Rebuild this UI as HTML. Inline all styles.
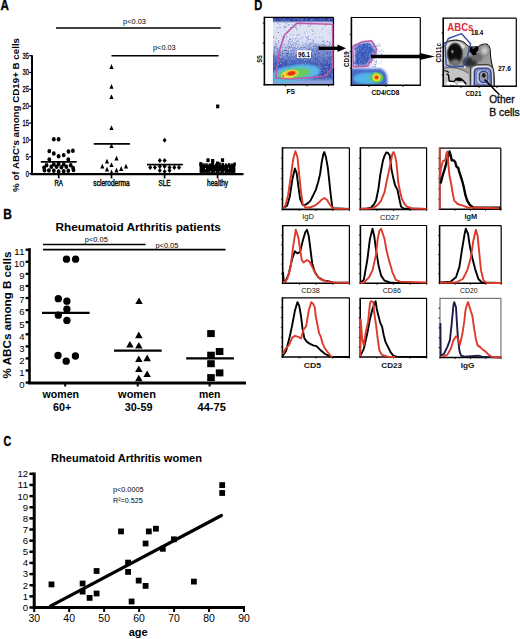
<!DOCTYPE html>
<html><head><meta charset="utf-8"><style>
html,body{margin:0;padding:0;background:#fff;}
svg{display:block;font-family:"Liberation Sans",sans-serif;}
</style></head><body>
<svg width="520" height="639" viewBox="0 0 520 639">
<defs>
<filter id="b1" x="-50%" y="-50%" width="200%" height="200%"><feGaussianBlur stdDeviation="1"/></filter>
<filter id="b2" x="-50%" y="-50%" width="200%" height="200%"><feGaussianBlur stdDeviation="1.8"/></filter>
<filter id="b3" x="-50%" y="-50%" width="200%" height="200%"><feGaussianBlur stdDeviation="2.6"/></filter>
<filter id="b05" x="-50%" y="-50%" width="200%" height="200%"><feGaussianBlur stdDeviation="0.6"/></filter>
<radialGradient id="gabc"><stop offset="0" stop-color="#000"/><stop offset="0.6" stop-color="#111"/><stop offset="1" stop-color="#555"/></radialGradient>
<radialGradient id="grb"><stop offset="0" stop-color="#d8d8d8"/><stop offset="0.6" stop-color="#aaa"/><stop offset="1" stop-color="#808080"/></radialGradient>
<linearGradient id="gfs" x1="0" y1="0" x2="0" y2="1">
 <stop offset="0" stop-color="#2a3c9c"/><stop offset="0.045" stop-color="#3a4ca8"/><stop offset="0.08" stop-color="#dfe4f4"/>
 <stop offset="0.33" stop-color="#dde2f4"/><stop offset="0.48" stop-color="#b4c0e6"/><stop offset="0.6" stop-color="#7088cc"/><stop offset="0.7" stop-color="#3d58b6"/><stop offset="1" stop-color="#3550b0"/>
</linearGradient>
<clipPath id="cfs"><rect x="272.8" y="17.6" width="60.2" height="66.4"/></clipPath>
<clipPath id="ccd19"><rect x="352.2" y="18.2" width="67.5" height="66.6"/></clipPath>
<clipPath id="ccd11"><rect x="443.9" y="18.8" width="72" height="66.6"/></clipPath>
</defs>
<text x="0.6" y="10.2" font-size="14.3" font-weight="bold" text-anchor="start" fill="#000" textLength="8.4" lengthAdjust="spacingAndGlyphs" stroke="#000" stroke-width="0.35">A</text>
<line x1="32" y1="55.3" x2="32" y2="174.6" stroke="#000" stroke-width="2" stroke-linecap="butt"/>
<line x1="30.5" y1="174.1" x2="243.5" y2="174.1" stroke="#000" stroke-width="2.4" stroke-linecap="butt"/>
<line x1="29.2" y1="173.6" x2="32" y2="173.6" stroke="#000" stroke-width="1.3" stroke-linecap="butt"/>
<text x="29" y="176.5" font-size="8.3" font-weight="normal" text-anchor="end" fill="#000" textLength="3.2" lengthAdjust="spacingAndGlyphs" stroke="#000" stroke-width="0.3">0</text>
<line x1="29.2" y1="156.75" x2="32" y2="156.75" stroke="#000" stroke-width="1.3" stroke-linecap="butt"/>
<text x="29" y="159.65" font-size="8.3" font-weight="normal" text-anchor="end" fill="#000" textLength="3.2" lengthAdjust="spacingAndGlyphs" stroke="#000" stroke-width="0.3">5</text>
<line x1="29.2" y1="139.89999999999998" x2="32" y2="139.89999999999998" stroke="#000" stroke-width="1.3" stroke-linecap="butt"/>
<text x="29" y="142.79999999999998" font-size="8.3" font-weight="normal" text-anchor="end" fill="#000" textLength="6.4" lengthAdjust="spacingAndGlyphs" stroke="#000" stroke-width="0.3">10</text>
<line x1="29.2" y1="123.04999999999998" x2="32" y2="123.04999999999998" stroke="#000" stroke-width="1.3" stroke-linecap="butt"/>
<text x="29" y="125.94999999999999" font-size="8.3" font-weight="normal" text-anchor="end" fill="#000" textLength="6.4" lengthAdjust="spacingAndGlyphs" stroke="#000" stroke-width="0.3">15</text>
<line x1="29.2" y1="106.19999999999999" x2="32" y2="106.19999999999999" stroke="#000" stroke-width="1.3" stroke-linecap="butt"/>
<text x="29" y="109.1" font-size="8.3" font-weight="normal" text-anchor="end" fill="#000" textLength="6.4" lengthAdjust="spacingAndGlyphs" stroke="#000" stroke-width="0.3">20</text>
<line x1="29.2" y1="89.35" x2="32" y2="89.35" stroke="#000" stroke-width="1.3" stroke-linecap="butt"/>
<text x="29" y="92.25" font-size="8.3" font-weight="normal" text-anchor="end" fill="#000" textLength="6.4" lengthAdjust="spacingAndGlyphs" stroke="#000" stroke-width="0.3">25</text>
<line x1="29.2" y1="72.49999999999999" x2="32" y2="72.49999999999999" stroke="#000" stroke-width="1.3" stroke-linecap="butt"/>
<text x="29" y="75.39999999999999" font-size="8.3" font-weight="normal" text-anchor="end" fill="#000" textLength="6.4" lengthAdjust="spacingAndGlyphs" stroke="#000" stroke-width="0.3">30</text>
<line x1="29.2" y1="55.64999999999999" x2="32" y2="55.64999999999999" stroke="#000" stroke-width="1.3" stroke-linecap="butt"/>
<text x="29" y="58.54999999999999" font-size="8.3" font-weight="normal" text-anchor="end" fill="#000" textLength="6.4" lengthAdjust="spacingAndGlyphs" stroke="#000" stroke-width="0.3">35</text>
<line x1="58.7" y1="173" x2="58.7" y2="178.4" stroke="#000" stroke-width="1.7" stroke-linecap="butt"/>
<text x="58.7" y="185.8" font-size="8.6" font-weight="normal" text-anchor="middle" fill="#000" textLength="8.5" lengthAdjust="spacingAndGlyphs" stroke="#000" stroke-width="0.4">RA</text>
<line x1="111.5" y1="173" x2="111.5" y2="178.4" stroke="#000" stroke-width="1.7" stroke-linecap="butt"/>
<text x="111.5" y="185.8" font-size="8.3" font-weight="normal" text-anchor="middle" fill="#000" textLength="36.3" lengthAdjust="spacingAndGlyphs" stroke="#000" stroke-width="0.4">scleroderma</text>
<line x1="164.6" y1="173" x2="164.6" y2="178.4" stroke="#000" stroke-width="1.7" stroke-linecap="butt"/>
<text x="164.6" y="185.8" font-size="9" font-weight="normal" text-anchor="middle" fill="#000" textLength="12" lengthAdjust="spacingAndGlyphs" stroke="#000" stroke-width="0.4">SLE</text>
<line x1="217.6" y1="173" x2="217.6" y2="178.4" stroke="#000" stroke-width="1.7" stroke-linecap="butt"/>
<text x="217.6" y="185.8" font-size="8.6" font-weight="normal" text-anchor="middle" fill="#000" textLength="21" lengthAdjust="spacingAndGlyphs" stroke="#000" stroke-width="0.4">healthy</text>
<text transform="translate(18.8,115) rotate(-90)" font-size="9.3" font-weight="bold" text-anchor="middle" fill="#000" textLength="154" lengthAdjust="spacingAndGlyphs">% of ABC's among CD19+ B cells</text>
<line x1="56" y1="28.1" x2="220.7" y2="28.1" stroke="#000" stroke-width="1.5" stroke-linecap="butt"/>
<text x="123" y="23.8" font-size="7.9" font-weight="normal" text-anchor="start" fill="#000" textLength="23" lengthAdjust="spacingAndGlyphs">p&lt;0.03</text>
<line x1="111.5" y1="55.7" x2="218.5" y2="55.7" stroke="#000" stroke-width="1.5" stroke-linecap="butt"/>
<text x="153" y="50.2" font-size="7.9" font-weight="normal" text-anchor="start" fill="#000" textLength="22.7" lengthAdjust="spacingAndGlyphs">p&lt;0.03</text>
<ellipse cx="53.8" cy="139.2" rx="1.9" ry="2.2" fill="#000"/>
<ellipse cx="58.6" cy="139.2" rx="1.9" ry="2.2" fill="#000"/>
<ellipse cx="49.3" cy="151.1" rx="1.9" ry="2.2" fill="#000"/>
<ellipse cx="53.8" cy="153.5" rx="1.9" ry="2.2" fill="#000"/>
<ellipse cx="58.6" cy="156.3" rx="1.9" ry="2.2" fill="#000"/>
<ellipse cx="63.7" cy="155.1" rx="1.9" ry="2.2" fill="#000"/>
<ellipse cx="68.5" cy="151.5" rx="1.9" ry="2.2" fill="#000"/>
<ellipse cx="72.9" cy="150.7" rx="1.9" ry="2.2" fill="#000"/>
<ellipse cx="49.3" cy="159.5" rx="1.9" ry="2.2" fill="#000"/>
<ellipse cx="68.3" cy="159.5" rx="1.9" ry="2.2" fill="#000"/>
<ellipse cx="46.5" cy="165.2" rx="1.9" ry="2.2" fill="#000"/>
<ellipse cx="53.8" cy="164.4" rx="1.9" ry="2.2" fill="#000"/>
<ellipse cx="58.6" cy="164.0" rx="1.9" ry="2.2" fill="#000"/>
<ellipse cx="63.7" cy="164.4" rx="1.9" ry="2.2" fill="#000"/>
<ellipse cx="70.7" cy="165.2" rx="1.9" ry="2.2" fill="#000"/>
<ellipse cx="44.0" cy="167.6" rx="1.9" ry="2.2" fill="#000"/>
<ellipse cx="51.3" cy="166.8" rx="1.9" ry="2.2" fill="#000"/>
<ellipse cx="56.6" cy="166.8" rx="1.9" ry="2.2" fill="#000"/>
<ellipse cx="61.4" cy="167.2" rx="1.9" ry="2.2" fill="#000"/>
<ellipse cx="66.3" cy="166.8" rx="1.9" ry="2.2" fill="#000"/>
<ellipse cx="73.1" cy="168.0" rx="1.9" ry="2.2" fill="#000"/>
<ellipse cx="44.5" cy="170.2" rx="1.9" ry="2.2" fill="#000"/>
<ellipse cx="48.9" cy="170.4" rx="1.9" ry="2.2" fill="#000"/>
<ellipse cx="53.8" cy="170.8" rx="1.9" ry="2.2" fill="#000"/>
<ellipse cx="58.6" cy="171.5" rx="1.9" ry="2.2" fill="#000"/>
<ellipse cx="63.7" cy="171.3" rx="1.9" ry="2.2" fill="#000"/>
<ellipse cx="68.3" cy="170.8" rx="1.9" ry="2.2" fill="#000"/>
<ellipse cx="73.5" cy="170.0" rx="1.9" ry="2.2" fill="#000"/>
<line x1="40.8" y1="161.8" x2="76.6" y2="161.8" stroke="#000" stroke-width="1.8" stroke-linecap="butt"/>
<path d="M109.4 68.9L111.5 64.1L113.6 68.9Z" fill="#000"/>
<path d="M109.4 88.7L111.5 83.9L113.6 88.7Z" fill="#000"/>
<path d="M109.4 99.1L111.5 94.3L113.6 99.1Z" fill="#000"/>
<path d="M109.4 130.1L111.5 125.3L113.6 130.1Z" fill="#000"/>
<path d="M109.4 148.1L111.5 143.3L113.6 148.1Z" fill="#000"/>
<path d="M114.4 160.6L116.5 155.8L118.6 160.6Z" fill="#000"/>
<path d="M104.9 163.6L107.0 158.8L109.1 163.6Z" fill="#000"/>
<path d="M100.2 168.6L102.3 163.8L104.4 168.6Z" fill="#000"/>
<path d="M109.4 167.0L111.5 162.2L113.6 167.0Z" fill="#000"/>
<path d="M123.9 168.6L126.0 163.8L128.1 168.6Z" fill="#000"/>
<path d="M104.9 171.6L107.0 166.8L109.1 171.6Z" fill="#000"/>
<path d="M114.4 172.4L116.5 167.6L118.6 172.4Z" fill="#000"/>
<path d="M119.1 170.9L121.2 166.1L123.3 170.9Z" fill="#000"/>
<path d="M109.4 174.4L111.5 169.6L113.6 174.4Z" fill="#000"/>
<line x1="93.8" y1="143.8" x2="130" y2="143.8" stroke="#000" stroke-width="1.8" stroke-linecap="butt"/>
<path d="M162.6 140.3L164.6 137.8L166.6 140.3L164.6 142.8Z" fill="#000"/>
<path d="M157.8 160.4L159.8 157.9L161.8 160.4L159.8 162.9Z" fill="#000"/>
<path d="M162.6 160.4L164.6 157.9L166.6 160.4L164.6 162.9Z" fill="#000"/>
<path d="M148.2 167.4L150.2 164.9L152.2 167.4L150.2 169.9Z" fill="#000"/>
<path d="M152.9 167.4L154.9 164.9L156.9 167.4L154.9 169.9Z" fill="#000"/>
<path d="M157.8 166.6L159.8 164.1L161.8 166.6L159.8 169.1Z" fill="#000"/>
<path d="M162.6 166.6L164.6 164.1L166.6 166.6L164.6 169.1Z" fill="#000"/>
<path d="M167.5 167.4L169.5 164.9L171.5 167.4L169.5 169.9Z" fill="#000"/>
<path d="M172.3 167.4L174.3 164.9L176.3 167.4L174.3 169.9Z" fill="#000"/>
<path d="M177.0 167.4L179.0 164.9L181.0 167.4L179.0 169.9Z" fill="#000"/>
<path d="M157.8 170.4L159.8 167.9L161.8 170.4L159.8 172.9Z" fill="#000"/>
<path d="M167.5 170.4L169.5 167.9L171.5 170.4L169.5 172.9Z" fill="#000"/>
<path d="M162.6 171.4L164.6 168.9L166.6 171.4L164.6 173.9Z" fill="#000"/>
<line x1="147" y1="164.6" x2="182.8" y2="164.6" stroke="#000" stroke-width="1.8" stroke-linecap="butt"/>
<rect x="216.1" y="104.5" width="3.2" height="3.8" fill="#000"/>
<rect x="206.4" y="158.3" width="3.2" height="3.8" fill="#000"/>
<rect x="211.1" y="159.0" width="3.2" height="3.8" fill="#000"/>
<rect x="220.9" y="158.3" width="3.2" height="3.8" fill="#000"/>
<rect x="199.6" y="165" width="35.8" height="7.9" fill="#000"/>
<rect x="199.5" y="163.1" width="2.6" height="3.2" fill="#000"/>
<rect x="202.2" y="163.3" width="2.6" height="3.2" fill="#000"/>
<rect x="205.2" y="163.4" width="2.6" height="3.2" fill="#000"/>
<rect x="208.5" y="163.5" width="2.6" height="3.2" fill="#000"/>
<rect x="211.7" y="163.3" width="2.6" height="3.2" fill="#000"/>
<rect x="215.0" y="163.5" width="2.6" height="3.2" fill="#000"/>
<rect x="218.2" y="162.4" width="2.6" height="3.2" fill="#000"/>
<rect x="221.4" y="163.0" width="2.6" height="3.2" fill="#000"/>
<rect x="224.7" y="163.5" width="2.6" height="3.2" fill="#000"/>
<rect x="227.9" y="163.2" width="2.6" height="3.2" fill="#000"/>
<rect x="231.0" y="163.5" width="2.6" height="3.2" fill="#000"/>
<rect x="233.3" y="162.5" width="2.6" height="3.2" fill="#000"/>
<rect x="216.0" y="161.5" width="3" height="3.4" fill="#000"/>
<rect x="211.0" y="161.7" width="3" height="3.4" fill="#000"/>
<rect x="199.3" y="162.1" width="3" height="3.4" fill="#000"/>
<rect x="209.79999999999998" y="171.2" width="0.9" height="0.9" fill="#fff"/>
<rect x="214.9" y="171.4" width="0.9" height="0.9" fill="#fff"/>
<rect x="219.6" y="171.2" width="0.9" height="0.9" fill="#fff"/>
<rect x="224.0" y="171.4" width="0.9" height="0.9" fill="#fff"/>
<rect x="205.1" y="168.1" width="0.9" height="0.9" fill="#fff"/>
<rect x="228.1" y="167.79999999999998" width="0.9" height="0.9" fill="#fff"/>
<text x="3.3" y="218.5" font-size="14.3" font-weight="bold" text-anchor="start" fill="#000" textLength="8.6" lengthAdjust="spacingAndGlyphs" stroke="#000" stroke-width="0.35">B</text>
<text x="55.4" y="230.6" font-size="11.2" font-weight="bold" text-anchor="start" fill="#000" textLength="165.5" lengthAdjust="spacingAndGlyphs">Rheumatoid Arthritis patients</text>
<line x1="43" y1="244.5" x2="145.5" y2="244.5" stroke="#000" stroke-width="1.6" stroke-linecap="butt"/>
<line x1="43" y1="249.6" x2="225.5" y2="249.6" stroke="#000" stroke-width="1.6" stroke-linecap="butt"/>
<text x="84.8" y="241.8" font-size="7.9" font-weight="normal" text-anchor="start" fill="#000" textLength="23" lengthAdjust="spacingAndGlyphs">p&lt;0.05</text>
<text x="155.4" y="247.6" font-size="7.9" font-weight="normal" text-anchor="start" fill="#000" textLength="23" lengthAdjust="spacingAndGlyphs">p&lt;0.05</text>
<line x1="29.5" y1="248.2" x2="29.5" y2="384" stroke="#000" stroke-width="2.6" stroke-linecap="butt"/>
<line x1="28.2" y1="383.0" x2="246" y2="383.0" stroke="#000" stroke-width="3.2" stroke-linecap="butt"/>
<line x1="25.6" y1="382.6" x2="29.5" y2="382.6" stroke="#000" stroke-width="2.3" stroke-linecap="butt"/>
<text x="24.6" y="387.90000000000003" font-size="9.9" font-weight="normal" text-anchor="end" fill="#000" textLength="5.3" lengthAdjust="spacingAndGlyphs">0</text>
<line x1="25.6" y1="370.52000000000004" x2="29.5" y2="370.52000000000004" stroke="#000" stroke-width="2.3" stroke-linecap="butt"/>
<text x="24.6" y="375.82000000000005" font-size="9.9" font-weight="normal" text-anchor="end" fill="#000" textLength="5.3" lengthAdjust="spacingAndGlyphs">1</text>
<line x1="25.6" y1="358.44" x2="29.5" y2="358.44" stroke="#000" stroke-width="2.3" stroke-linecap="butt"/>
<text x="24.6" y="363.74" font-size="9.9" font-weight="normal" text-anchor="end" fill="#000" textLength="5.3" lengthAdjust="spacingAndGlyphs">2</text>
<line x1="25.6" y1="346.36" x2="29.5" y2="346.36" stroke="#000" stroke-width="2.3" stroke-linecap="butt"/>
<text x="24.6" y="351.66" font-size="9.9" font-weight="normal" text-anchor="end" fill="#000" textLength="5.3" lengthAdjust="spacingAndGlyphs">3</text>
<line x1="25.6" y1="334.28000000000003" x2="29.5" y2="334.28000000000003" stroke="#000" stroke-width="2.3" stroke-linecap="butt"/>
<text x="24.6" y="339.58000000000004" font-size="9.9" font-weight="normal" text-anchor="end" fill="#000" textLength="5.3" lengthAdjust="spacingAndGlyphs">4</text>
<line x1="25.6" y1="322.20000000000005" x2="29.5" y2="322.20000000000005" stroke="#000" stroke-width="2.3" stroke-linecap="butt"/>
<text x="24.6" y="327.50000000000006" font-size="9.9" font-weight="normal" text-anchor="end" fill="#000" textLength="5.3" lengthAdjust="spacingAndGlyphs">5</text>
<line x1="25.6" y1="310.12" x2="29.5" y2="310.12" stroke="#000" stroke-width="2.3" stroke-linecap="butt"/>
<text x="24.6" y="315.42" font-size="9.9" font-weight="normal" text-anchor="end" fill="#000" textLength="5.3" lengthAdjust="spacingAndGlyphs">6</text>
<line x1="25.6" y1="298.04" x2="29.5" y2="298.04" stroke="#000" stroke-width="2.3" stroke-linecap="butt"/>
<text x="24.6" y="303.34000000000003" font-size="9.9" font-weight="normal" text-anchor="end" fill="#000" textLength="5.3" lengthAdjust="spacingAndGlyphs">7</text>
<line x1="25.6" y1="285.96000000000004" x2="29.5" y2="285.96000000000004" stroke="#000" stroke-width="2.3" stroke-linecap="butt"/>
<text x="24.6" y="291.26000000000005" font-size="9.9" font-weight="normal" text-anchor="end" fill="#000" textLength="5.3" lengthAdjust="spacingAndGlyphs">8</text>
<line x1="25.6" y1="273.88" x2="29.5" y2="273.88" stroke="#000" stroke-width="2.3" stroke-linecap="butt"/>
<text x="24.6" y="279.18" font-size="9.9" font-weight="normal" text-anchor="end" fill="#000" textLength="5.3" lengthAdjust="spacingAndGlyphs">9</text>
<line x1="25.6" y1="261.8" x2="29.5" y2="261.8" stroke="#000" stroke-width="2.3" stroke-linecap="butt"/>
<text x="24.6" y="267.1" font-size="9.9" font-weight="normal" text-anchor="end" fill="#000" textLength="10.6" lengthAdjust="spacingAndGlyphs">10</text>
<line x1="25.6" y1="249.72000000000003" x2="29.5" y2="249.72000000000003" stroke="#000" stroke-width="2.3" stroke-linecap="butt"/>
<text x="24.6" y="255.02000000000004" font-size="9.9" font-weight="normal" text-anchor="end" fill="#000" textLength="10.6" lengthAdjust="spacingAndGlyphs">11</text>
<text transform="translate(11.4,315) rotate(-90)" font-size="11.4" font-weight="bold" text-anchor="middle" fill="#000" textLength="127" lengthAdjust="spacingAndGlyphs">% ABCs among B cells</text>
<line x1="65.2" y1="382" x2="65.2" y2="386.5" stroke="#000" stroke-width="2" stroke-linecap="butt"/>
<line x1="137.7" y1="382" x2="137.7" y2="386.5" stroke="#000" stroke-width="2" stroke-linecap="butt"/>
<line x1="209.6" y1="382" x2="209.6" y2="386.5" stroke="#000" stroke-width="2" stroke-linecap="butt"/>
<text x="60.8" y="398.2" font-size="10.8" font-weight="bold" text-anchor="middle" fill="#000" textLength="36.5" lengthAdjust="spacingAndGlyphs">women</text>
<text x="137" y="398.2" font-size="10.8" font-weight="bold" text-anchor="middle" fill="#000" textLength="37.8" lengthAdjust="spacingAndGlyphs">women</text>
<text x="209.7" y="398.2" font-size="10.8" font-weight="bold" text-anchor="middle" fill="#000" textLength="21.5" lengthAdjust="spacingAndGlyphs">men</text>
<text x="62.2" y="410.6" font-size="10.8" font-weight="bold" text-anchor="middle" fill="#000" textLength="18.3" lengthAdjust="spacingAndGlyphs">60+</text>
<text x="138.6" y="410.6" font-size="10.8" font-weight="bold" text-anchor="middle" fill="#000" textLength="27.7" lengthAdjust="spacingAndGlyphs">30-59</text>
<text x="211.7" y="410.6" font-size="10.8" font-weight="bold" text-anchor="middle" fill="#000" textLength="28.3" lengthAdjust="spacingAndGlyphs">44-75</text>
<circle cx="66.5" cy="259.2" r="3.65" fill="#000"/>
<circle cx="75.6" cy="259.2" r="3.65" fill="#000"/>
<circle cx="58.3" cy="298.7" r="3.65" fill="#000"/>
<circle cx="66.9" cy="301.2" r="3.65" fill="#000"/>
<circle cx="66.9" cy="309.2" r="3.65" fill="#000"/>
<circle cx="58.3" cy="315.2" r="3.65" fill="#000"/>
<circle cx="66.9" cy="320.4" r="3.65" fill="#000"/>
<circle cx="58.0" cy="355.5" r="3.65" fill="#000"/>
<circle cx="75.4" cy="356.0" r="3.65" fill="#000"/>
<circle cx="66.2" cy="361.2" r="3.65" fill="#000"/>
<line x1="42" y1="312.8" x2="89.6" y2="312.8" stroke="#000" stroke-width="2.2" stroke-linecap="butt"/>
<path d="M135.3 304.1L139.1 297.5L142.8 304.1Z" fill="#000"/>
<path d="M135.1 338.2L138.8 331.6L142.6 338.2Z" fill="#000"/>
<path d="M126.2 347.5L129.9 340.9L133.7 347.5Z" fill="#000"/>
<path d="M135.1 348.5L138.8 341.9L142.6 348.5Z" fill="#000"/>
<path d="M135.1 362.1L138.8 355.5L142.6 362.1Z" fill="#000"/>
<path d="M143.4 361.2L147.2 354.6L150.9 361.2Z" fill="#000"/>
<path d="M135.1 372.0L138.8 365.4L142.6 372.0Z" fill="#000"/>
<path d="M143.4 377.1L147.2 370.5L150.9 377.1Z" fill="#000"/>
<path d="M135.1 381.3L138.8 374.7L142.6 381.3Z" fill="#000"/>
<line x1="114" y1="350.6" x2="161.7" y2="350.6" stroke="#000" stroke-width="2.2" stroke-linecap="butt"/>
<rect x="207.2" y="330.1" width="7.6" height="7.0" fill="#000"/>
<rect x="215.8" y="348.0" width="7.6" height="7.0" fill="#000"/>
<rect x="207.2" y="351.7" width="7.6" height="7.0" fill="#000"/>
<rect x="207.2" y="360.2" width="7.6" height="7.0" fill="#000"/>
<rect x="215.8" y="369.4" width="7.6" height="7.0" fill="#000"/>
<rect x="207.2" y="374.1" width="7.6" height="7.0" fill="#000"/>
<line x1="186.2" y1="358.4" x2="233.9" y2="358.4" stroke="#000" stroke-width="2.2" stroke-linecap="butt"/>
<text x="3.6" y="445.6" font-size="14.3" font-weight="bold" text-anchor="start" fill="#000" textLength="7.7" lengthAdjust="spacingAndGlyphs" stroke="#000" stroke-width="0.35">C</text>
<text x="51" y="462.3" font-size="10.9" font-weight="bold" text-anchor="start" fill="#000" textLength="151" lengthAdjust="spacingAndGlyphs">Rheumatoid Arthritis women</text>
<line x1="34.2" y1="472.5" x2="34.2" y2="609" stroke="#000" stroke-width="3" stroke-linecap="butt"/>
<line x1="32.7" y1="607.5" x2="245" y2="607.5" stroke="#000" stroke-width="3" stroke-linecap="butt"/>
<line x1="29.4" y1="607.5" x2="34.2" y2="607.5" stroke="#000" stroke-width="2.5" stroke-linecap="butt"/>
<text x="28.2" y="610.9" font-size="9.6" font-weight="normal" text-anchor="end" fill="#000" textLength="5.35" lengthAdjust="spacingAndGlyphs">0</text>
<line x1="29.4" y1="596.36" x2="34.2" y2="596.36" stroke="#000" stroke-width="2.5" stroke-linecap="butt"/>
<text x="28.2" y="599.76" font-size="9.6" font-weight="normal" text-anchor="end" fill="#000" textLength="5.35" lengthAdjust="spacingAndGlyphs">1</text>
<line x1="29.4" y1="585.22" x2="34.2" y2="585.22" stroke="#000" stroke-width="2.5" stroke-linecap="butt"/>
<text x="28.2" y="588.62" font-size="9.6" font-weight="normal" text-anchor="end" fill="#000" textLength="5.35" lengthAdjust="spacingAndGlyphs">2</text>
<line x1="29.4" y1="574.08" x2="34.2" y2="574.08" stroke="#000" stroke-width="2.5" stroke-linecap="butt"/>
<text x="28.2" y="577.48" font-size="9.6" font-weight="normal" text-anchor="end" fill="#000" textLength="5.35" lengthAdjust="spacingAndGlyphs">3</text>
<line x1="29.4" y1="562.94" x2="34.2" y2="562.94" stroke="#000" stroke-width="2.5" stroke-linecap="butt"/>
<text x="28.2" y="566.34" font-size="9.6" font-weight="normal" text-anchor="end" fill="#000" textLength="5.35" lengthAdjust="spacingAndGlyphs">4</text>
<line x1="29.4" y1="551.8" x2="34.2" y2="551.8" stroke="#000" stroke-width="2.5" stroke-linecap="butt"/>
<text x="28.2" y="555.1999999999999" font-size="9.6" font-weight="normal" text-anchor="end" fill="#000" textLength="5.35" lengthAdjust="spacingAndGlyphs">5</text>
<line x1="29.4" y1="540.66" x2="34.2" y2="540.66" stroke="#000" stroke-width="2.5" stroke-linecap="butt"/>
<text x="28.2" y="544.06" font-size="9.6" font-weight="normal" text-anchor="end" fill="#000" textLength="5.35" lengthAdjust="spacingAndGlyphs">6</text>
<line x1="29.4" y1="529.52" x2="34.2" y2="529.52" stroke="#000" stroke-width="2.5" stroke-linecap="butt"/>
<text x="28.2" y="532.92" font-size="9.6" font-weight="normal" text-anchor="end" fill="#000" textLength="5.35" lengthAdjust="spacingAndGlyphs">7</text>
<line x1="29.4" y1="518.38" x2="34.2" y2="518.38" stroke="#000" stroke-width="2.5" stroke-linecap="butt"/>
<text x="28.2" y="521.78" font-size="9.6" font-weight="normal" text-anchor="end" fill="#000" textLength="5.35" lengthAdjust="spacingAndGlyphs">8</text>
<line x1="29.4" y1="507.24" x2="34.2" y2="507.24" stroke="#000" stroke-width="2.5" stroke-linecap="butt"/>
<text x="28.2" y="510.64" font-size="9.6" font-weight="normal" text-anchor="end" fill="#000" textLength="5.35" lengthAdjust="spacingAndGlyphs">9</text>
<line x1="29.4" y1="496.1" x2="34.2" y2="496.1" stroke="#000" stroke-width="2.5" stroke-linecap="butt"/>
<text x="28.2" y="499.5" font-size="9.6" font-weight="normal" text-anchor="end" fill="#000" textLength="10.7" lengthAdjust="spacingAndGlyphs">10</text>
<line x1="29.4" y1="484.96" x2="34.2" y2="484.96" stroke="#000" stroke-width="2.5" stroke-linecap="butt"/>
<text x="28.2" y="488.35999999999996" font-size="9.6" font-weight="normal" text-anchor="end" fill="#000" textLength="10.7" lengthAdjust="spacingAndGlyphs">11</text>
<line x1="29.4" y1="473.82" x2="34.2" y2="473.82" stroke="#000" stroke-width="2.5" stroke-linecap="butt"/>
<text x="28.2" y="477.21999999999997" font-size="9.6" font-weight="normal" text-anchor="end" fill="#000" textLength="10.7" lengthAdjust="spacingAndGlyphs">12</text>
<line x1="34.2" y1="606" x2="34.2" y2="612" stroke="#000" stroke-width="2" stroke-linecap="butt"/>
<text x="34.2" y="622.3" font-size="10" font-weight="normal" text-anchor="middle" fill="#000" textLength="11.6" lengthAdjust="spacingAndGlyphs">30</text>
<line x1="69.17" y1="606" x2="69.17" y2="612" stroke="#000" stroke-width="2" stroke-linecap="butt"/>
<text x="69.17" y="622.3" font-size="10" font-weight="normal" text-anchor="middle" fill="#000" textLength="11.6" lengthAdjust="spacingAndGlyphs">40</text>
<line x1="104.14" y1="606" x2="104.14" y2="612" stroke="#000" stroke-width="2" stroke-linecap="butt"/>
<text x="104.14" y="622.3" font-size="10" font-weight="normal" text-anchor="middle" fill="#000" textLength="11.6" lengthAdjust="spacingAndGlyphs">50</text>
<line x1="139.11" y1="606" x2="139.11" y2="612" stroke="#000" stroke-width="2" stroke-linecap="butt"/>
<text x="139.11" y="622.3" font-size="10" font-weight="normal" text-anchor="middle" fill="#000" textLength="11.6" lengthAdjust="spacingAndGlyphs">60</text>
<line x1="174.07999999999998" y1="606" x2="174.07999999999998" y2="612" stroke="#000" stroke-width="2" stroke-linecap="butt"/>
<text x="174.07999999999998" y="622.3" font-size="10" font-weight="normal" text-anchor="middle" fill="#000" textLength="11.6" lengthAdjust="spacingAndGlyphs">70</text>
<line x1="209.05" y1="606" x2="209.05" y2="612" stroke="#000" stroke-width="2" stroke-linecap="butt"/>
<text x="209.05" y="622.3" font-size="10" font-weight="normal" text-anchor="middle" fill="#000" textLength="11.6" lengthAdjust="spacingAndGlyphs">80</text>
<line x1="244.01999999999998" y1="606" x2="244.01999999999998" y2="612" stroke="#000" stroke-width="2" stroke-linecap="butt"/>
<text x="244.01999999999998" y="622.3" font-size="10" font-weight="normal" text-anchor="middle" fill="#000" textLength="11.6" lengthAdjust="spacingAndGlyphs">90</text>
<text x="138.2" y="635.6" font-size="11" font-weight="bold" text-anchor="middle" fill="#000" textLength="19" lengthAdjust="spacingAndGlyphs">age</text>
<text x="113" y="491.6" font-size="7.7" font-weight="normal" text-anchor="start" fill="#000" textLength="30.5" lengthAdjust="spacingAndGlyphs">p&lt;0.0005</text>
<text x="113" y="503.1" font-size="7.7" font-weight="normal" text-anchor="start" fill="#000" textLength="29.7" lengthAdjust="spacingAndGlyphs">R²=0.525</text>
<line x1="50.4" y1="606.2" x2="221.4" y2="515.5" stroke="#000" stroke-width="3.2" stroke-linecap="round"/>
<rect x="48.6" y="581.5" width="5.8" height="5.8" fill="#000"/>
<rect x="79.7" y="580.6" width="5.8" height="5.8" fill="#000"/>
<rect x="79.7" y="588.7" width="5.8" height="5.8" fill="#000"/>
<rect x="86.7" y="595.0" width="5.8" height="5.8" fill="#000"/>
<rect x="93.7" y="568.1" width="5.8" height="5.8" fill="#000"/>
<rect x="93.7" y="590.6" width="5.8" height="5.8" fill="#000"/>
<rect x="118.1" y="528.5" width="5.8" height="5.8" fill="#000"/>
<rect x="145.9" y="528.5" width="5.8" height="5.8" fill="#000"/>
<rect x="153.0" y="525.8" width="5.8" height="5.8" fill="#000"/>
<rect x="142.7" y="540.6" width="5.8" height="5.8" fill="#000"/>
<rect x="171.0" y="536.4" width="5.8" height="5.8" fill="#000"/>
<rect x="159.9" y="545.9" width="5.8" height="5.8" fill="#000"/>
<rect x="125.2" y="559.7" width="5.8" height="5.8" fill="#000"/>
<rect x="125.2" y="569.0" width="5.8" height="5.8" fill="#000"/>
<rect x="135.8" y="577.7" width="5.8" height="5.8" fill="#000"/>
<rect x="142.7" y="583.0" width="5.8" height="5.8" fill="#000"/>
<rect x="128.7" y="598.6" width="5.8" height="5.8" fill="#000"/>
<rect x="219.3" y="482.2" width="5.8" height="5.8" fill="#000"/>
<rect x="219.3" y="490.1" width="5.8" height="5.8" fill="#000"/>
<rect x="191.0" y="578.7" width="5.8" height="5.8" fill="#000"/>
<text x="254.2" y="10.2" font-size="14.3" font-weight="bold" text-anchor="start" fill="#000" textLength="8.0" lengthAdjust="spacingAndGlyphs" stroke="#000" stroke-width="0.35">D</text>
<line x1="282.5" y1="147.8" x2="349.4" y2="147.8" stroke="#000" stroke-width="1.2" stroke-linecap="butt"/>
<line x1="349.4" y1="147.8" x2="349.4" y2="209.4" stroke="#000" stroke-width="1.2" stroke-linecap="butt"/>
<line x1="282.5" y1="147.20000000000002" x2="282.5" y2="210.20000000000002" stroke="#000" stroke-width="1.6" stroke-linecap="butt"/>
<line x1="281.7" y1="209.4" x2="350.0" y2="209.4" stroke="#000" stroke-width="1.6" stroke-linecap="butt"/>
<line x1="280.9" y1="199.13333333333333" x2="282.5" y2="199.13333333333333" stroke="#000" stroke-width="0.8" stroke-linecap="butt"/>
<line x1="280.9" y1="188.86666666666667" x2="282.5" y2="188.86666666666667" stroke="#000" stroke-width="0.8" stroke-linecap="butt"/>
<line x1="280.9" y1="178.60000000000002" x2="282.5" y2="178.60000000000002" stroke="#000" stroke-width="0.8" stroke-linecap="butt"/>
<line x1="280.9" y1="168.33333333333334" x2="282.5" y2="168.33333333333334" stroke="#000" stroke-width="0.8" stroke-linecap="butt"/>
<line x1="280.9" y1="158.06666666666666" x2="282.5" y2="158.06666666666666" stroke="#000" stroke-width="0.8" stroke-linecap="butt"/>
<line x1="299.225" y1="209.4" x2="299.225" y2="211.0" stroke="#000" stroke-width="0.8" stroke-linecap="butt"/>
<line x1="315.95" y1="209.4" x2="315.95" y2="211.0" stroke="#000" stroke-width="0.8" stroke-linecap="butt"/>
<line x1="332.67499999999995" y1="209.4" x2="332.67499999999995" y2="211.0" stroke="#000" stroke-width="0.8" stroke-linecap="butt"/>
<line x1="349.4" y1="209.4" x2="349.4" y2="211.0" stroke="#000" stroke-width="0.8" stroke-linecap="butt"/>
<polyline points="282.8,208.3 287.1,205.7 289.7,197.1 292.3,179.8 294.9,168.5 296.6,172.9 298.4,186.7 300.1,198.8 302.7,204.9 305.3,204.9 307.9,203.1 310.5,200.6 313.1,195.4 315.7,190.2 318.3,181.5 320.0,174.6 321.7,162.5 323.4,153.8 324.3,152.1 326.0,157.3 327.8,167.7 328.6,174.6 330.4,191.9 332.1,205.7 333.0,208.3 349.4,208.9" fill="none" stroke="#000" stroke-width="1.9" stroke-linejoin="round"/>
<polyline points="282.8,208.3 285.4,205.7 288.0,195.4 290.6,178.1 293.2,159.0 295.4,151.2 297.5,157.3 299.2,174.6 301.0,191.9 302.7,204.0 305.3,207.5 309.6,207.5 314.8,205.7 319.1,202.3 321.7,199.7 324.3,198.0 326.9,199.7 329.5,204.0 332.1,207.5 335.6,208.9 349.4,208.9" fill="none" stroke="#dd3a2e" stroke-width="1.9" stroke-linejoin="round"/>
<text x="308.1" y="219" font-size="7" font-weight="normal" text-anchor="middle" fill="#111" textLength="11.8" lengthAdjust="spacingAndGlyphs">IgD</text>
<line x1="360.4" y1="147.8" x2="426.6" y2="147.8" stroke="#000" stroke-width="1.2" stroke-linecap="butt"/>
<line x1="426.6" y1="147.8" x2="426.6" y2="209.4" stroke="#000" stroke-width="1.2" stroke-linecap="butt"/>
<line x1="360.4" y1="147.20000000000002" x2="360.4" y2="210.20000000000002" stroke="#000" stroke-width="1.6" stroke-linecap="butt"/>
<line x1="359.59999999999997" y1="209.4" x2="427.20000000000005" y2="209.4" stroke="#000" stroke-width="1.6" stroke-linecap="butt"/>
<line x1="358.79999999999995" y1="199.13333333333333" x2="360.4" y2="199.13333333333333" stroke="#000" stroke-width="0.8" stroke-linecap="butt"/>
<line x1="358.79999999999995" y1="188.86666666666667" x2="360.4" y2="188.86666666666667" stroke="#000" stroke-width="0.8" stroke-linecap="butt"/>
<line x1="358.79999999999995" y1="178.60000000000002" x2="360.4" y2="178.60000000000002" stroke="#000" stroke-width="0.8" stroke-linecap="butt"/>
<line x1="358.79999999999995" y1="168.33333333333334" x2="360.4" y2="168.33333333333334" stroke="#000" stroke-width="0.8" stroke-linecap="butt"/>
<line x1="358.79999999999995" y1="158.06666666666666" x2="360.4" y2="158.06666666666666" stroke="#000" stroke-width="0.8" stroke-linecap="butt"/>
<line x1="376.95" y1="209.4" x2="376.95" y2="211.0" stroke="#000" stroke-width="0.8" stroke-linecap="butt"/>
<line x1="393.5" y1="209.4" x2="393.5" y2="211.0" stroke="#000" stroke-width="0.8" stroke-linecap="butt"/>
<line x1="410.05" y1="209.4" x2="410.05" y2="211.0" stroke="#000" stroke-width="0.8" stroke-linecap="butt"/>
<line x1="426.6" y1="209.4" x2="426.6" y2="211.0" stroke="#000" stroke-width="0.8" stroke-linecap="butt"/>
<polyline points="360.4,208.9 367.3,208.5 370.8,207.8 374.2,204.0 376.0,200.6 378.5,188.4 380.3,174.6 382.9,160.8 384.6,155.6 386.3,152.5 388.1,153.0 389.8,155.6 391.5,169.4 393.3,178.1 395.0,185.0 397.6,190.2 399.3,198.8 401.0,206.6 403.6,208.5 426.1,208.9" fill="none" stroke="#000" stroke-width="1.9" stroke-linejoin="round"/>
<polyline points="360.4,208.9 369.0,208.5 372.5,208.2 377.7,204.9 381.1,200.6 384.6,191.9 386.3,183.3 388.9,171.1 390.7,162.5 392.4,153.8 393.6,152.1 395.0,155.6 396.4,162.5 398.4,183.3 400.2,191.9 401.9,198.8 404.5,204.0 407.1,206.6 412.3,208.5 426.6,208.9" fill="none" stroke="#dd3a2e" stroke-width="1.9" stroke-linejoin="round"/>
<text x="389.6" y="220.3" font-size="7" font-weight="normal" text-anchor="middle" fill="#111" textLength="19.2" lengthAdjust="spacingAndGlyphs">CD27</text>
<line x1="439.7" y1="148.2" x2="500.8" y2="148.2" stroke="#000" stroke-width="1.2" stroke-linecap="butt"/>
<line x1="500.8" y1="148.2" x2="500.8" y2="209.2" stroke="#000" stroke-width="1.2" stroke-linecap="butt"/>
<line x1="439.7" y1="147.6" x2="439.7" y2="210.0" stroke="#000" stroke-width="1.6" stroke-linecap="butt"/>
<line x1="438.9" y1="209.2" x2="501.40000000000003" y2="209.2" stroke="#000" stroke-width="1.6" stroke-linecap="butt"/>
<line x1="438.09999999999997" y1="199.03333333333333" x2="439.7" y2="199.03333333333333" stroke="#000" stroke-width="0.8" stroke-linecap="butt"/>
<line x1="438.09999999999997" y1="188.86666666666665" x2="439.7" y2="188.86666666666665" stroke="#000" stroke-width="0.8" stroke-linecap="butt"/>
<line x1="438.09999999999997" y1="178.7" x2="439.7" y2="178.7" stroke="#000" stroke-width="0.8" stroke-linecap="butt"/>
<line x1="438.09999999999997" y1="168.53333333333333" x2="439.7" y2="168.53333333333333" stroke="#000" stroke-width="0.8" stroke-linecap="butt"/>
<line x1="438.09999999999997" y1="158.36666666666665" x2="439.7" y2="158.36666666666665" stroke="#000" stroke-width="0.8" stroke-linecap="butt"/>
<line x1="454.975" y1="209.2" x2="454.975" y2="210.79999999999998" stroke="#000" stroke-width="0.8" stroke-linecap="butt"/>
<line x1="470.25" y1="209.2" x2="470.25" y2="210.79999999999998" stroke="#000" stroke-width="0.8" stroke-linecap="butt"/>
<line x1="485.525" y1="209.2" x2="485.525" y2="210.79999999999998" stroke="#000" stroke-width="0.8" stroke-linecap="butt"/>
<line x1="500.8" y1="209.2" x2="500.8" y2="210.79999999999998" stroke="#000" stroke-width="0.8" stroke-linecap="butt"/>
<line x1="439.7" y1="209.2" x2="439.7" y2="147.7" stroke="#dd3a2e" stroke-width="1.8" stroke-linecap="butt"/>
<polyline points="440.6,183.5 442.5,176.0 444.5,169.6 446.0,164.2 448.7,154.2 449.5,151.5 450.6,155.0 451.8,160.4 453.7,160.4 455.2,162.0 456.4,166.5 458.3,168.0 459.0,171.2 460.6,175.8 462.5,182.0 463.7,186.7 465.5,195.4 467.2,200.6 469.8,204.9 473.3,207.5 481.9,207.8 500.6,207.8" fill="none" stroke="#000" stroke-width="2.4" stroke-linejoin="round"/>
<polyline points="440.3,175.0 441.0,168.0 443.0,161.0 445.2,160.4 446.5,153.0 447.3,151.5 448.3,164.2 449.5,175.8 451.4,185.0 452.5,192.0 454.2,200.6 457.7,204.0 462.9,205.7 468.0,207.5 499.2,208.3" fill="none" stroke="#dd3a2e" stroke-width="1.9" stroke-linejoin="round"/>
<text x="470.8" y="219" font-size="7" font-weight="bold" text-anchor="middle" fill="#111" textLength="12.7" lengthAdjust="spacingAndGlyphs">IgM</text>
<line x1="282.7" y1="225.6" x2="349.4" y2="225.6" stroke="#000" stroke-width="1.2" stroke-linecap="butt"/>
<line x1="349.4" y1="225.6" x2="349.4" y2="283.3" stroke="#000" stroke-width="1.2" stroke-linecap="butt"/>
<line x1="282.7" y1="225.0" x2="282.7" y2="284.1" stroke="#000" stroke-width="1.6" stroke-linecap="butt"/>
<line x1="281.9" y1="283.3" x2="350.0" y2="283.3" stroke="#000" stroke-width="1.6" stroke-linecap="butt"/>
<line x1="281.09999999999997" y1="273.68333333333334" x2="282.7" y2="273.68333333333334" stroke="#000" stroke-width="0.8" stroke-linecap="butt"/>
<line x1="281.09999999999997" y1="264.06666666666666" x2="282.7" y2="264.06666666666666" stroke="#000" stroke-width="0.8" stroke-linecap="butt"/>
<line x1="281.09999999999997" y1="254.45" x2="282.7" y2="254.45" stroke="#000" stroke-width="0.8" stroke-linecap="butt"/>
<line x1="281.09999999999997" y1="244.83333333333334" x2="282.7" y2="244.83333333333334" stroke="#000" stroke-width="0.8" stroke-linecap="butt"/>
<line x1="281.09999999999997" y1="235.21666666666667" x2="282.7" y2="235.21666666666667" stroke="#000" stroke-width="0.8" stroke-linecap="butt"/>
<line x1="299.375" y1="283.3" x2="299.375" y2="284.90000000000003" stroke="#000" stroke-width="0.8" stroke-linecap="butt"/>
<line x1="316.04999999999995" y1="283.3" x2="316.04999999999995" y2="284.90000000000003" stroke="#000" stroke-width="0.8" stroke-linecap="butt"/>
<line x1="332.72499999999997" y1="283.3" x2="332.72499999999997" y2="284.90000000000003" stroke="#000" stroke-width="0.8" stroke-linecap="butt"/>
<line x1="349.4" y1="283.3" x2="349.4" y2="284.90000000000003" stroke="#000" stroke-width="0.8" stroke-linecap="butt"/>
<polyline points="283.0,272.1 283.7,280.7 285.4,281.6 288.8,273.8 292.3,258.3 294.9,251.3 297.5,253.4 300.1,251.7 302.7,241.0 305.3,232.3 307.0,229.7 308.7,235.8 310.5,249.6 312.2,263.4 314.8,272.1 318.3,277.3 323.4,280.4 330.4,281.6 333.8,282.8 349.4,282.8" fill="none" stroke="#000" stroke-width="1.9" stroke-linejoin="round"/>
<polyline points="283.3,282.8 287.1,279.4 290.6,266.9 293.2,246.1 295.8,229.7 298.4,237.5 300.1,249.6 301.8,260.0 303.5,262.6 307.0,260.0 309.6,261.7 312.2,266.9 315.7,273.8 320.0,279.0 326.9,281.6 333.8,282.5 349.4,282.8" fill="none" stroke="#dd3a2e" stroke-width="1.9" stroke-linejoin="round"/>
<text x="310.6" y="292.8" font-size="7" font-weight="normal" text-anchor="middle" fill="#111" textLength="18.5" lengthAdjust="spacingAndGlyphs">CD38</text>
<line x1="360.4" y1="225.5" x2="426.6" y2="225.5" stroke="#000" stroke-width="1.2" stroke-linecap="butt"/>
<line x1="426.6" y1="225.5" x2="426.6" y2="283.3" stroke="#000" stroke-width="1.2" stroke-linecap="butt"/>
<line x1="360.4" y1="224.9" x2="360.4" y2="284.1" stroke="#000" stroke-width="1.6" stroke-linecap="butt"/>
<line x1="359.59999999999997" y1="283.3" x2="427.20000000000005" y2="283.3" stroke="#000" stroke-width="1.6" stroke-linecap="butt"/>
<line x1="358.79999999999995" y1="273.6666666666667" x2="360.4" y2="273.6666666666667" stroke="#000" stroke-width="0.8" stroke-linecap="butt"/>
<line x1="358.79999999999995" y1="264.03333333333336" x2="360.4" y2="264.03333333333336" stroke="#000" stroke-width="0.8" stroke-linecap="butt"/>
<line x1="358.79999999999995" y1="254.4" x2="360.4" y2="254.4" stroke="#000" stroke-width="0.8" stroke-linecap="butt"/>
<line x1="358.79999999999995" y1="244.76666666666668" x2="360.4" y2="244.76666666666668" stroke="#000" stroke-width="0.8" stroke-linecap="butt"/>
<line x1="358.79999999999995" y1="235.13333333333333" x2="360.4" y2="235.13333333333333" stroke="#000" stroke-width="0.8" stroke-linecap="butt"/>
<line x1="376.95" y1="283.3" x2="376.95" y2="284.90000000000003" stroke="#000" stroke-width="0.8" stroke-linecap="butt"/>
<line x1="393.5" y1="283.3" x2="393.5" y2="284.90000000000003" stroke="#000" stroke-width="0.8" stroke-linecap="butt"/>
<line x1="410.05" y1="283.3" x2="410.05" y2="284.90000000000003" stroke="#000" stroke-width="0.8" stroke-linecap="butt"/>
<line x1="426.6" y1="283.3" x2="426.6" y2="284.90000000000003" stroke="#000" stroke-width="0.8" stroke-linecap="butt"/>
<polyline points="360.4,282.8 363.8,279.9 367.3,260.0 369.9,239.2 372.5,228.8 374.2,235.8 376.0,249.6 378.5,265.2 381.1,275.6 384.6,280.7 389.8,282.5 396.7,283.0 426.6,283.0" fill="none" stroke="#000" stroke-width="1.9" stroke-linejoin="round"/>
<polyline points="360.4,283.0 363.8,282.5 369.0,277.3 372.5,270.4 376.0,254.8 377.7,239.2 379.4,230.6 381.1,228.8 382.9,234.0 384.6,239.2 386.3,249.6 388.9,260.0 392.4,272.1 395.8,279.9 400.2,281.6 426.6,282.5" fill="none" stroke="#dd3a2e" stroke-width="1.9" stroke-linejoin="round"/>
<text x="391.8" y="292.8" font-size="7" font-weight="normal" text-anchor="middle" fill="#111" textLength="18.3" lengthAdjust="spacingAndGlyphs">CD86</text>
<line x1="439.6" y1="225.7" x2="501.2" y2="225.7" stroke="#000" stroke-width="1.2" stroke-linecap="butt"/>
<line x1="501.2" y1="225.7" x2="501.2" y2="283.3" stroke="#000" stroke-width="1.2" stroke-linecap="butt"/>
<line x1="439.6" y1="225.1" x2="439.6" y2="284.1" stroke="#000" stroke-width="1.6" stroke-linecap="butt"/>
<line x1="438.8" y1="283.3" x2="501.8" y2="283.3" stroke="#000" stroke-width="1.6" stroke-linecap="butt"/>
<line x1="438.0" y1="273.7" x2="439.6" y2="273.7" stroke="#000" stroke-width="0.8" stroke-linecap="butt"/>
<line x1="438.0" y1="264.1" x2="439.6" y2="264.1" stroke="#000" stroke-width="0.8" stroke-linecap="butt"/>
<line x1="438.0" y1="254.5" x2="439.6" y2="254.5" stroke="#000" stroke-width="0.8" stroke-linecap="butt"/>
<line x1="438.0" y1="244.9" x2="439.6" y2="244.9" stroke="#000" stroke-width="0.8" stroke-linecap="butt"/>
<line x1="438.0" y1="235.29999999999998" x2="439.6" y2="235.29999999999998" stroke="#000" stroke-width="0.8" stroke-linecap="butt"/>
<line x1="455.0" y1="283.3" x2="455.0" y2="284.90000000000003" stroke="#000" stroke-width="0.8" stroke-linecap="butt"/>
<line x1="470.4" y1="283.3" x2="470.4" y2="284.90000000000003" stroke="#000" stroke-width="0.8" stroke-linecap="butt"/>
<line x1="485.8" y1="283.3" x2="485.8" y2="284.90000000000003" stroke="#000" stroke-width="0.8" stroke-linecap="butt"/>
<line x1="501.2" y1="283.3" x2="501.2" y2="284.90000000000003" stroke="#000" stroke-width="0.8" stroke-linecap="butt"/>
<polyline points="440.0,282.5 450.8,281.6 456.0,277.3 459.4,266.9 462.0,249.6 464.6,234.0 465.8,228.8 468.1,234.0 469.8,246.1 472.4,258.3 475.0,268.6 478.4,279.0 481.9,282.5 501.3,283.0" fill="none" stroke="#000" stroke-width="1.9" stroke-linejoin="round"/>
<polyline points="440.0,282.8 456.0,282.5 462.9,279.0 467.2,270.4 470.7,258.3 473.3,241.0 475.8,229.7 477.6,235.8 479.3,253.1 481.0,270.4 483.6,280.7 487.1,283.0 501.3,283.0" fill="none" stroke="#dd3a2e" stroke-width="1.9" stroke-linejoin="round"/>
<text x="468.9" y="292.8" font-size="7" font-weight="normal" text-anchor="middle" fill="#111" textLength="17.6" lengthAdjust="spacingAndGlyphs">CD20</text>
<line x1="282.4" y1="297.8" x2="349.4" y2="297.8" stroke="#000" stroke-width="1.2" stroke-linecap="butt"/>
<line x1="349.4" y1="297.8" x2="349.4" y2="357" stroke="#000" stroke-width="1.2" stroke-linecap="butt"/>
<line x1="282.4" y1="297.2" x2="282.4" y2="357.8" stroke="#000" stroke-width="1.6" stroke-linecap="butt"/>
<line x1="281.59999999999997" y1="357" x2="350.0" y2="357" stroke="#000" stroke-width="1.6" stroke-linecap="butt"/>
<line x1="280.79999999999995" y1="347.1333333333333" x2="282.4" y2="347.1333333333333" stroke="#000" stroke-width="0.8" stroke-linecap="butt"/>
<line x1="280.79999999999995" y1="337.26666666666665" x2="282.4" y2="337.26666666666665" stroke="#000" stroke-width="0.8" stroke-linecap="butt"/>
<line x1="280.79999999999995" y1="327.4" x2="282.4" y2="327.4" stroke="#000" stroke-width="0.8" stroke-linecap="butt"/>
<line x1="280.79999999999995" y1="317.53333333333336" x2="282.4" y2="317.53333333333336" stroke="#000" stroke-width="0.8" stroke-linecap="butt"/>
<line x1="280.79999999999995" y1="307.6666666666667" x2="282.4" y2="307.6666666666667" stroke="#000" stroke-width="0.8" stroke-linecap="butt"/>
<line x1="299.15" y1="357" x2="299.15" y2="358.6" stroke="#000" stroke-width="0.8" stroke-linecap="butt"/>
<line x1="315.9" y1="357" x2="315.9" y2="358.6" stroke="#000" stroke-width="0.8" stroke-linecap="butt"/>
<line x1="332.65" y1="357" x2="332.65" y2="358.6" stroke="#000" stroke-width="0.8" stroke-linecap="butt"/>
<line x1="349.4" y1="357" x2="349.4" y2="358.6" stroke="#000" stroke-width="0.8" stroke-linecap="butt"/>
<polyline points="282.8,355.7 286.2,350.6 289.7,336.7 292.3,324.6 294.9,310.8 297.5,302.1 299.2,305.6 301.0,316.0 302.7,329.8 304.4,338.4 307.0,341.9 309.6,343.6 313.1,345.4 316.5,346.2 320.0,349.7 325.2,354.0 330.4,356.6 349.4,357.0" fill="none" stroke="#000" stroke-width="1.9" stroke-linejoin="round"/>
<polyline points="282.8,354.0 285.4,348.8 288.8,345.4 292.3,337.6 294.9,335.8 297.5,336.7 301.0,338.4 303.5,329.8 306.1,326.3 308.7,310.8 311.3,302.1 313.1,303.8 314.8,307.3 315.7,316.0 317.4,324.6 319.1,333.3 320.8,336.7 322.6,343.6 325.2,348.8 327.8,352.3 330.4,355.7 332.4,357.0" fill="none" stroke="#dd3a2e" stroke-width="1.9" stroke-linejoin="round"/>
<text x="312.5" y="367.7" font-size="7.6" font-weight="bold" text-anchor="middle" fill="#111" textLength="17.4" lengthAdjust="spacingAndGlyphs">CD5</text>
<line x1="360.2" y1="298.3" x2="426.6" y2="298.3" stroke="#000" stroke-width="1.2" stroke-linecap="butt"/>
<line x1="426.6" y1="298.3" x2="426.6" y2="357" stroke="#000" stroke-width="1.2" stroke-linecap="butt"/>
<line x1="360.2" y1="297.7" x2="360.2" y2="357.8" stroke="#000" stroke-width="1.6" stroke-linecap="butt"/>
<line x1="359.4" y1="357" x2="427.20000000000005" y2="357" stroke="#000" stroke-width="1.6" stroke-linecap="butt"/>
<line x1="358.59999999999997" y1="347.2166666666667" x2="360.2" y2="347.2166666666667" stroke="#000" stroke-width="0.8" stroke-linecap="butt"/>
<line x1="358.59999999999997" y1="337.43333333333334" x2="360.2" y2="337.43333333333334" stroke="#000" stroke-width="0.8" stroke-linecap="butt"/>
<line x1="358.59999999999997" y1="327.65" x2="360.2" y2="327.65" stroke="#000" stroke-width="0.8" stroke-linecap="butt"/>
<line x1="358.59999999999997" y1="317.8666666666667" x2="360.2" y2="317.8666666666667" stroke="#000" stroke-width="0.8" stroke-linecap="butt"/>
<line x1="358.59999999999997" y1="308.08333333333337" x2="360.2" y2="308.08333333333337" stroke="#000" stroke-width="0.8" stroke-linecap="butt"/>
<line x1="376.8" y1="357" x2="376.8" y2="358.6" stroke="#000" stroke-width="0.8" stroke-linecap="butt"/>
<line x1="393.4" y1="357" x2="393.4" y2="358.6" stroke="#000" stroke-width="0.8" stroke-linecap="butt"/>
<line x1="410.0" y1="357" x2="410.0" y2="358.6" stroke="#000" stroke-width="0.8" stroke-linecap="butt"/>
<line x1="426.6" y1="357" x2="426.6" y2="358.6" stroke="#000" stroke-width="0.8" stroke-linecap="butt"/>
<polyline points="360.4,355.7 363.8,348.8 367.3,333.3 369.9,319.4 372.5,309.0 375.6,301.2 376.8,309.0 378.5,316.0 380.3,322.9 382.0,326.3 383.7,335.0 385.5,341.9 388.1,347.1 390.7,352.3 393.3,355.7 396.7,356.6 426.6,357.0" fill="none" stroke="#000" stroke-width="1.9" stroke-linejoin="round"/>
<polyline points="360.4,356.6 360.7,319.4 362.1,338.4 363.8,345.4 365.6,333.3 368.2,321.1 369.9,303.8 370.8,301.2 373.4,302.1 374.2,312.5 376.0,324.6 377.7,338.4 379.4,350.6 382.0,354.9 388.1,356.6 395.0,357.0" fill="none" stroke="#dd3a2e" stroke-width="1.9" stroke-linejoin="round"/>
<text x="391.7" y="368" font-size="7.6" font-weight="bold" text-anchor="middle" fill="#111" textLength="20.8" lengthAdjust="spacingAndGlyphs">CD23</text>
<line x1="440" y1="298.3" x2="500.9" y2="298.3" stroke="#777" stroke-width="1.2" stroke-linecap="butt"/>
<line x1="500.9" y1="298.3" x2="500.9" y2="357.5" stroke="#777" stroke-width="1.2" stroke-linecap="butt"/>
<line x1="440" y1="297.7" x2="440" y2="358.3" stroke="#777" stroke-width="1.2" stroke-linecap="butt"/>
<line x1="439.2" y1="357.5" x2="501.5" y2="357.5" stroke="#000" stroke-width="1.6" stroke-linecap="butt"/>
<line x1="438.4" y1="347.6333333333333" x2="440" y2="347.6333333333333" stroke="#000" stroke-width="0.8" stroke-linecap="butt"/>
<line x1="438.4" y1="337.76666666666665" x2="440" y2="337.76666666666665" stroke="#000" stroke-width="0.8" stroke-linecap="butt"/>
<line x1="438.4" y1="327.9" x2="440" y2="327.9" stroke="#000" stroke-width="0.8" stroke-linecap="butt"/>
<line x1="438.4" y1="318.03333333333336" x2="440" y2="318.03333333333336" stroke="#000" stroke-width="0.8" stroke-linecap="butt"/>
<line x1="438.4" y1="308.1666666666667" x2="440" y2="308.1666666666667" stroke="#000" stroke-width="0.8" stroke-linecap="butt"/>
<line x1="455.225" y1="357.5" x2="455.225" y2="359.1" stroke="#000" stroke-width="0.8" stroke-linecap="butt"/>
<line x1="470.45" y1="357.5" x2="470.45" y2="359.1" stroke="#000" stroke-width="0.8" stroke-linecap="butt"/>
<line x1="485.67499999999995" y1="357.5" x2="485.67499999999995" y2="359.1" stroke="#000" stroke-width="0.8" stroke-linecap="butt"/>
<line x1="500.9" y1="357.5" x2="500.9" y2="359.1" stroke="#000" stroke-width="0.8" stroke-linecap="butt"/>
<polyline points="440.4,322.9 440.7,355.7 443.8,354.0 447.3,347.1 449.9,340.2 451.6,324.6 453.4,305.6 454.2,302.1 456.0,307.3 456.8,321.1 457.7,335.0 459.4,350.6 461.1,355.7 464.6,356.6 478.4,355.7 481.9,356.6 500.9,357.5" fill="none" stroke="#1c1c48" stroke-width="1.9" stroke-linejoin="round"/>
<polyline points="442.1,356.6 447.3,354.9 450.8,348.8 453.4,340.2 456.0,336.4 457.3,337.6 459.9,344.8 462.4,333.8 464.4,320.4 465.5,310.2 466.7,305.6 468.1,302.1 470.7,310.8 472.4,316.0 474.1,328.1 475.8,338.4 477.6,345.4 480.2,347.1 482.8,349.7 485.4,351.4 488.8,354.9 491.4,356.6 500.9,357.5" fill="none" stroke="#dd3a2e" stroke-width="1.9" stroke-linejoin="round"/>
<text x="467.6" y="368" font-size="7.6" font-weight="bold" text-anchor="middle" fill="#111" textLength="13.7" lengthAdjust="spacingAndGlyphs">IgG</text>
<g clip-path="url(#cfs)">
<rect x="272.8" y="17.6" width="60.5" height="66.6" fill="url(#gfs)"/>
<ellipse cx="318" cy="55" rx="16" ry="9" fill="#6a80c8" opacity="0.6" filter="url(#b3)"/>
</g>
<path d="M307.4 18.5h0.7v0.7h-0.7zM281.2 58.6h0.7v0.7h-0.7zM328.8 80.2h0.7v0.7h-0.7zM314.3 83.8h0.7v0.7h-0.7zM310.8 69.9h0.7v0.7h-0.7zM310.8 20.4h0.7v0.7h-0.7zM287.1 77.6h0.7v0.7h-0.7zM280.1 58.9h0.7v0.7h-0.7zM290.9 53.0h0.7v0.7h-0.7zM317.7 56.8h0.7v0.7h-0.7zM305.9 50.6h0.7v0.7h-0.7zM308.1 71.5h0.7v0.7h-0.7zM317.5 75.9h0.7v0.7h-0.7zM281.2 59.1h0.7v0.7h-0.7zM292.9 58.4h0.7v0.7h-0.7zM317.4 43.9h0.7v0.7h-0.7zM296.9 82.2h0.7v0.7h-0.7zM298.7 82.4h0.7v0.7h-0.7zM332.4 52.1h0.7v0.7h-0.7zM275.8 44.0h0.7v0.7h-0.7zM297.3 37.9h0.7v0.7h-0.7zM297.0 52.9h0.7v0.7h-0.7zM308.8 74.5h0.7v0.7h-0.7zM298.6 55.9h0.7v0.7h-0.7zM290.0 42.4h0.7v0.7h-0.7zM306.3 19.4h0.7v0.7h-0.7zM279.0 71.7h0.7v0.7h-0.7zM301.8 76.2h0.7v0.7h-0.7zM294.3 67.5h0.7v0.7h-0.7zM324.0 58.6h0.7v0.7h-0.7zM322.9 50.1h0.7v0.7h-0.7zM291.9 19.4h0.7v0.7h-0.7zM305.5 43.7h0.7v0.7h-0.7zM327.6 58.3h0.7v0.7h-0.7zM295.3 76.5h0.7v0.7h-0.7zM309.2 81.8h0.7v0.7h-0.7zM323.4 49.3h0.7v0.7h-0.7zM310.4 81.7h0.7v0.7h-0.7zM323.9 52.1h0.7v0.7h-0.7zM287.1 61.8h0.7v0.7h-0.7zM273.1 68.5h0.7v0.7h-0.7zM314.2 51.3h0.7v0.7h-0.7zM330.6 57.4h0.7v0.7h-0.7zM328.2 79.9h0.7v0.7h-0.7zM331.5 64.2h0.7v0.7h-0.7zM281.5 81.8h0.7v0.7h-0.7zM299.2 77.2h0.7v0.7h-0.7zM280.1 67.7h0.7v0.7h-0.7zM327.1 48.5h0.7v0.7h-0.7zM288.7 80.5h0.7v0.7h-0.7zM310.2 60.8h0.7v0.7h-0.7zM297.5 75.3h0.7v0.7h-0.7zM326.8 51.2h0.7v0.7h-0.7zM299.6 63.2h0.7v0.7h-0.7zM323.4 27.4h0.7v0.7h-0.7zM278.2 32.2h0.7v0.7h-0.7zM290.9 66.0h0.7v0.7h-0.7zM277.6 27.6h0.7v0.7h-0.7zM309.4 53.3h0.7v0.7h-0.7zM299.3 72.2h0.7v0.7h-0.7zM278.5 66.1h0.7v0.7h-0.7zM301.1 47.0h0.7v0.7h-0.7zM291.0 79.4h0.7v0.7h-0.7zM293.6 80.4h0.7v0.7h-0.7zM300.1 75.5h0.7v0.7h-0.7zM312.3 58.4h0.7v0.7h-0.7zM274.9 47.9h0.7v0.7h-0.7zM316.6 48.0h0.7v0.7h-0.7zM297.6 79.5h0.7v0.7h-0.7zM316.1 50.2h0.7v0.7h-0.7zM295.9 55.7h0.7v0.7h-0.7zM288.4 48.0h0.7v0.7h-0.7zM273.3 56.4h0.7v0.7h-0.7zM309.2 61.1h0.7v0.7h-0.7zM274.1 50.7h0.7v0.7h-0.7zM314.6 59.1h0.7v0.7h-0.7zM289.7 77.0h0.7v0.7h-0.7zM321.1 72.6h0.7v0.7h-0.7zM288.4 41.8h0.7v0.7h-0.7zM279.9 52.4h0.7v0.7h-0.7zM306.2 37.8h0.7v0.7h-0.7zM287.5 45.7h0.7v0.7h-0.7zM294.9 27.4h0.7v0.7h-0.7zM323.2 57.0h0.7v0.7h-0.7zM276.6 52.2h0.7v0.7h-0.7zM327.5 62.8h0.7v0.7h-0.7zM316.3 46.0h0.7v0.7h-0.7zM292.6 34.5h0.7v0.7h-0.7zM306.6 61.1h0.7v0.7h-0.7zM308.2 55.9h0.7v0.7h-0.7zM296.1 20.1h0.7v0.7h-0.7zM311.4 83.4h0.7v0.7h-0.7zM302.8 67.7h0.7v0.7h-0.7zM330.4 56.8h0.7v0.7h-0.7zM310.7 20.8h0.7v0.7h-0.7zM315.5 48.8h0.7v0.7h-0.7zM288.6 40.4h0.7v0.7h-0.7zM331.6 63.8h0.7v0.7h-0.7zM298.6 19.7h0.7v0.7h-0.7zM330.0 20.5h0.7v0.7h-0.7zM322.6 54.7h0.7v0.7h-0.7zM328.5 58.0h0.7v0.7h-0.7zM323.1 60.2h0.7v0.7h-0.7zM326.7 61.6h0.7v0.7h-0.7zM328.6 50.8h0.7v0.7h-0.7zM330.5 20.0h0.7v0.7h-0.7zM299.3 75.4h0.7v0.7h-0.7zM326.2 83.8h0.7v0.7h-0.7zM302.8 81.1h0.7v0.7h-0.7zM318.0 52.9h0.7v0.7h-0.7zM284.7 50.2h0.7v0.7h-0.7zM323.0 44.5h0.7v0.7h-0.7zM325.1 59.8h0.7v0.7h-0.7zM276.1 76.9h0.7v0.7h-0.7zM321.3 81.8h0.7v0.7h-0.7zM281.1 70.2h0.7v0.7h-0.7zM281.1 77.9h0.7v0.7h-0.7zM292.7 20.4h0.7v0.7h-0.7zM274.9 19.8h0.7v0.7h-0.7zM319.3 46.0h0.7v0.7h-0.7zM323.0 65.6h0.7v0.7h-0.7zM288.7 19.5h0.7v0.7h-0.7zM329.0 55.5h0.7v0.7h-0.7zM315.2 55.2h0.7v0.7h-0.7zM327.6 77.0h0.7v0.7h-0.7zM284.3 36.9h0.7v0.7h-0.7zM310.3 75.9h0.7v0.7h-0.7zM289.8 69.4h0.7v0.7h-0.7zM274.6 40.9h0.7v0.7h-0.7zM285.6 18.5h0.7v0.7h-0.7zM330.2 47.9h0.7v0.7h-0.7zM273.5 83.8h0.7v0.7h-0.7zM292.6 76.0h0.7v0.7h-0.7zM314.5 70.0h0.7v0.7h-0.7zM305.7 52.0h0.7v0.7h-0.7zM300.9 56.6h0.7v0.7h-0.7zM282.0 74.7h0.7v0.7h-0.7zM307.7 82.0h0.7v0.7h-0.7zM283.1 58.8h0.7v0.7h-0.7zM274.9 46.2h0.7v0.7h-0.7zM284.8 62.6h0.7v0.7h-0.7zM292.5 60.0h0.7v0.7h-0.7zM313.1 67.0h0.7v0.7h-0.7zM317.1 45.9h0.7v0.7h-0.7zM274.9 65.8h0.7v0.7h-0.7zM287.0 69.5h0.7v0.7h-0.7zM315.9 18.9h0.7v0.7h-0.7zM324.5 83.1h0.7v0.7h-0.7zM295.9 71.7h0.7v0.7h-0.7zM314.8 59.9h0.7v0.7h-0.7zM316.6 59.3h0.7v0.7h-0.7zM289.0 46.8h0.7v0.7h-0.7zM298.1 52.7h0.7v0.7h-0.7zM324.0 59.0h0.7v0.7h-0.7zM277.4 68.4h0.7v0.7h-0.7zM310.6 79.6h0.7v0.7h-0.7zM299.3 48.7h0.7v0.7h-0.7zM317.3 75.2h0.7v0.7h-0.7zM314.3 76.8h0.7v0.7h-0.7zM327.6 64.9h0.7v0.7h-0.7zM330.9 74.1h0.7v0.7h-0.7zM302.7 81.2h0.7v0.7h-0.7zM282.7 79.4h0.7v0.7h-0.7zM289.8 19.4h0.7v0.7h-0.7zM303.3 18.0h0.7v0.7h-0.7zM309.4 66.8h0.7v0.7h-0.7zM314.9 67.3h0.7v0.7h-0.7zM307.7 78.0h0.7v0.7h-0.7zM277.1 78.2h0.7v0.7h-0.7zM308.8 44.8h0.7v0.7h-0.7zM316.6 80.3h0.7v0.7h-0.7zM285.1 73.4h0.7v0.7h-0.7zM303.7 20.3h0.7v0.7h-0.7zM315.6 44.0h0.7v0.7h-0.7zM303.4 57.8h0.7v0.7h-0.7zM308.0 75.1h0.7v0.7h-0.7zM319.1 57.3h0.7v0.7h-0.7zM278.9 73.0h0.7v0.7h-0.7zM285.5 69.9h0.7v0.7h-0.7zM285.2 75.5h0.7v0.7h-0.7zM324.2 77.5h0.7v0.7h-0.7zM289.9 43.7h0.7v0.7h-0.7zM304.9 56.5h0.7v0.7h-0.7zM319.1 83.4h0.7v0.7h-0.7zM308.6 77.5h0.7v0.7h-0.7zM328.0 59.3h0.7v0.7h-0.7zM302.9 45.3h0.7v0.7h-0.7zM301.8 72.3h0.7v0.7h-0.7zM308.6 82.7h0.7v0.7h-0.7zM300.3 59.9h0.7v0.7h-0.7zM327.3 63.4h0.7v0.7h-0.7zM316.6 50.5h0.7v0.7h-0.7zM303.6 75.6h0.7v0.7h-0.7zM297.5 46.9h0.7v0.7h-0.7zM309.4 19.2h0.7v0.7h-0.7zM307.2 51.9h0.7v0.7h-0.7zM313.4 79.9h0.7v0.7h-0.7zM276.9 80.2h0.7v0.7h-0.7zM300.2 74.6h0.7v0.7h-0.7zM332.2 41.6h0.7v0.7h-0.7zM332.2 49.1h0.7v0.7h-0.7zM314.0 57.8h0.7v0.7h-0.7zM315.1 62.8h0.7v0.7h-0.7zM284.5 78.8h0.7v0.7h-0.7zM309.8 65.0h0.7v0.7h-0.7zM296.2 28.3h0.7v0.7h-0.7zM295.8 78.6h0.7v0.7h-0.7zM301.9 53.6h0.7v0.7h-0.7zM280.5 77.9h0.7v0.7h-0.7zM280.9 72.6h0.7v0.7h-0.7zM309.2 72.0h0.7v0.7h-0.7zM320.8 82.7h0.7v0.7h-0.7zM309.8 49.8h0.7v0.7h-0.7zM314.2 73.8h0.7v0.7h-0.7zM308.2 39.4h0.7v0.7h-0.7zM288.0 81.5h0.7v0.7h-0.7zM329.3 82.4h0.7v0.7h-0.7zM278.1 52.5h0.7v0.7h-0.7zM294.1 56.2h0.7v0.7h-0.7zM322.8 57.9h0.7v0.7h-0.7zM298.5 59.1h0.7v0.7h-0.7zM296.1 35.2h0.7v0.7h-0.7zM297.9 51.2h0.7v0.7h-0.7zM291.9 37.9h0.7v0.7h-0.7zM323.6 59.8h0.7v0.7h-0.7zM323.2 75.1h0.7v0.7h-0.7zM314.2 79.9h0.7v0.7h-0.7zM286.3 79.3h0.7v0.7h-0.7zM329.8 75.1h0.7v0.7h-0.7zM313.9 66.8h0.7v0.7h-0.7zM321.4 57.5h0.7v0.7h-0.7zM323.3 47.0h0.7v0.7h-0.7zM305.2 65.3h0.7v0.7h-0.7zM304.9 60.1h0.7v0.7h-0.7zM291.0 47.4h0.7v0.7h-0.7zM287.8 43.6h0.7v0.7h-0.7zM296.3 74.2h0.7v0.7h-0.7zM291.3 80.6h0.7v0.7h-0.7zM316.1 83.9h0.7v0.7h-0.7zM283.0 68.2h0.7v0.7h-0.7zM282.0 63.5h0.7v0.7h-0.7zM307.0 19.5h0.7v0.7h-0.7zM311.4 55.0h0.7v0.7h-0.7zM309.2 78.3h0.7v0.7h-0.7zM327.9 62.5h0.7v0.7h-0.7zM287.7 51.7h0.7v0.7h-0.7zM287.7 19.6h0.7v0.7h-0.7zM303.5 67.8h0.7v0.7h-0.7zM332.4 51.9h0.7v0.7h-0.7zM273.2 19.2h0.7v0.7h-0.7zM331.8 83.3h0.7v0.7h-0.7zM303.6 79.1h0.7v0.7h-0.7zM286.2 59.7h0.7v0.7h-0.7zM328.9 19.0h0.7v0.7h-0.7zM291.9 24.5h0.7v0.7h-0.7zM299.3 78.0h0.7v0.7h-0.7zM285.3 47.6h0.7v0.7h-0.7zM288.2 75.2h0.7v0.7h-0.7zM330.0 17.7h0.7v0.7h-0.7zM293.4 75.1h0.7v0.7h-0.7zM318.6 45.0h0.7v0.7h-0.7zM294.6 47.1h0.7v0.7h-0.7zM279.1 77.8h0.7v0.7h-0.7zM274.0 65.6h0.7v0.7h-0.7zM296.3 79.0h0.7v0.7h-0.7zM274.8 81.4h0.7v0.7h-0.7zM303.3 77.2h0.7v0.7h-0.7zM275.7 18.6h0.7v0.7h-0.7zM293.0 19.6h0.7v0.7h-0.7zM329.1 45.3h0.7v0.7h-0.7zM307.2 51.5h0.7v0.7h-0.7zM301.3 49.9h0.7v0.7h-0.7zM308.4 26.0h0.7v0.7h-0.7zM303.9 19.5h0.7v0.7h-0.7zM319.8 70.5h0.7v0.7h-0.7zM303.5 47.3h0.7v0.7h-0.7zM279.8 27.0h0.7v0.7h-0.7zM320.8 51.4h0.7v0.7h-0.7zM279.0 60.8h0.7v0.7h-0.7zM289.0 65.9h0.7v0.7h-0.7zM292.9 78.5h0.7v0.7h-0.7zM327.5 74.3h0.7v0.7h-0.7zM320.7 20.4h0.7v0.7h-0.7zM291.7 77.7h0.7v0.7h-0.7zM325.3 65.8h0.7v0.7h-0.7zM328.9 58.8h0.7v0.7h-0.7zM291.8 74.3h0.7v0.7h-0.7zM300.7 69.5h0.7v0.7h-0.7zM315.1 58.0h0.7v0.7h-0.7zM302.4 60.4h0.7v0.7h-0.7zM308.0 56.7h0.7v0.7h-0.7zM330.8 75.8h0.7v0.7h-0.7zM328.8 53.6h0.7v0.7h-0.7zM308.5 73.9h0.7v0.7h-0.7zM294.5 69.4h0.7v0.7h-0.7zM276.2 18.6h0.7v0.7h-0.7zM327.4 80.8h0.7v0.7h-0.7zM287.8 57.2h0.7v0.7h-0.7zM310.2 66.3h0.7v0.7h-0.7zM286.9 71.9h0.7v0.7h-0.7zM315.6 72.7h0.7v0.7h-0.7zM300.9 74.8h0.7v0.7h-0.7zM297.5 52.9h0.7v0.7h-0.7zM308.9 53.9h0.7v0.7h-0.7zM322.3 73.3h0.7v0.7h-0.7zM274.3 19.5h0.7v0.7h-0.7zM332.7 38.5h0.7v0.7h-0.7zM291.8 83.4h0.7v0.7h-0.7zM308.8 60.6h0.7v0.7h-0.7zM289.8 62.9h0.7v0.7h-0.7zM297.8 50.8h0.7v0.7h-0.7zM274.9 19.0h0.7v0.7h-0.7zM275.0 82.1h0.7v0.7h-0.7zM314.3 47.9h0.7v0.7h-0.7zM288.5 58.9h0.7v0.7h-0.7zM304.3 55.1h0.7v0.7h-0.7zM276.1 70.0h0.7v0.7h-0.7zM326.6 75.1h0.7v0.7h-0.7zM305.8 69.8h0.7v0.7h-0.7zM304.1 58.0h0.7v0.7h-0.7zM291.7 64.7h0.7v0.7h-0.7zM327.0 83.7h0.7v0.7h-0.7zM274.3 74.8h0.7v0.7h-0.7zM326.3 80.8h0.7v0.7h-0.7zM298.2 80.0h0.7v0.7h-0.7zM291.5 59.9h0.7v0.7h-0.7zM286.7 78.5h0.7v0.7h-0.7zM321.8 77.0h0.7v0.7h-0.7zM322.9 54.3h0.7v0.7h-0.7zM315.3 69.6h0.7v0.7h-0.7zM326.5 70.7h0.7v0.7h-0.7zM310.1 42.9h0.7v0.7h-0.7zM292.0 18.5h0.7v0.7h-0.7zM279.4 58.7h0.7v0.7h-0.7zM277.5 47.9h0.7v0.7h-0.7zM304.0 56.8h0.7v0.7h-0.7zM321.7 64.0h0.7v0.7h-0.7zM291.9 44.3h0.7v0.7h-0.7zM283.8 27.5h0.7v0.7h-0.7zM290.8 78.1h0.7v0.7h-0.7zM282.4 82.8h0.7v0.7h-0.7zM287.5 57.0h0.7v0.7h-0.7zM287.9 65.0h0.7v0.7h-0.7zM288.4 53.0h0.7v0.7h-0.7zM282.9 57.0h0.7v0.7h-0.7zM280.2 70.0h0.7v0.7h-0.7zM293.7 42.0h0.7v0.7h-0.7zM292.7 46.8h0.7v0.7h-0.7zM321.6 36.9h0.7v0.7h-0.7zM327.9 57.0h0.7v0.7h-0.7zM303.8 19.2h0.7v0.7h-0.7zM326.9 54.4h0.7v0.7h-0.7zM313.0 80.7h0.7v0.7h-0.7zM295.9 79.4h0.7v0.7h-0.7zM313.3 61.3h0.7v0.7h-0.7zM300.9 50.9h0.7v0.7h-0.7zM296.8 79.0h0.7v0.7h-0.7zM289.1 46.6h0.7v0.7h-0.7zM273.4 55.3h0.7v0.7h-0.7zM307.0 76.6h0.7v0.7h-0.7zM285.9 59.3h0.7v0.7h-0.7zM273.8 73.8h0.7v0.7h-0.7zM330.5 60.1h0.7v0.7h-0.7zM279.8 68.6h0.7v0.7h-0.7zM321.3 70.3h0.7v0.7h-0.7zM297.6 19.7h0.7v0.7h-0.7zM297.5 66.7h0.7v0.7h-0.7zM332.1 64.8h0.7v0.7h-0.7zM324.9 74.9h0.7v0.7h-0.7zM328.5 64.2h0.7v0.7h-0.7zM292.4 62.7h0.7v0.7h-0.7zM277.8 70.1h0.7v0.7h-0.7zM286.0 55.0h0.7v0.7h-0.7zM275.8 62.8h0.7v0.7h-0.7zM332.9 27.1h0.7v0.7h-0.7zM280.2 58.6h0.7v0.7h-0.7zM308.3 72.4h0.7v0.7h-0.7zM296.5 81.4h0.7v0.7h-0.7zM330.7 71.9h0.7v0.7h-0.7zM319.0 79.5h0.7v0.7h-0.7zM282.2 53.6h0.7v0.7h-0.7zM320.8 60.6h0.7v0.7h-0.7zM326.4 53.2h0.7v0.7h-0.7zM302.2 51.7h0.7v0.7h-0.7zM319.3 65.4h0.7v0.7h-0.7zM287.7 66.6h0.7v0.7h-0.7zM308.4 46.4h0.7v0.7h-0.7zM275.3 58.6h0.7v0.7h-0.7zM331.7 67.0h0.7v0.7h-0.7zM304.3 57.2h0.7v0.7h-0.7zM273.7 55.7h0.7v0.7h-0.7zM313.0 67.0h0.7v0.7h-0.7zM321.6 44.6h0.7v0.7h-0.7zM308.0 58.8h0.7v0.7h-0.7zM306.3 83.8h0.7v0.7h-0.7zM298.2 18.6h0.7v0.7h-0.7zM294.3 56.4h0.7v0.7h-0.7zM311.4 62.8h0.7v0.7h-0.7zM310.4 19.0h0.7v0.7h-0.7zM287.6 19.0h0.7v0.7h-0.7zM278.3 41.8h0.7v0.7h-0.7zM308.8 68.3h0.7v0.7h-0.7zM305.7 66.5h0.7v0.7h-0.7zM322.4 19.4h0.7v0.7h-0.7zM299.4 65.6h0.7v0.7h-0.7zM274.2 47.2h0.7v0.7h-0.7zM301.7 51.7h0.7v0.7h-0.7zM273.6 67.4h0.7v0.7h-0.7zM296.6 29.8h0.7v0.7h-0.7zM275.7 77.0h0.7v0.7h-0.7zM310.9 68.6h0.7v0.7h-0.7zM276.4 59.3h0.7v0.7h-0.7zM289.8 80.3h0.7v0.7h-0.7zM285.7 73.2h0.7v0.7h-0.7zM281.8 62.6h0.7v0.7h-0.7zM332.8 35.8h0.7v0.7h-0.7zM290.0 27.1h0.7v0.7h-0.7zM305.1 67.3h0.7v0.7h-0.7zM307.3 68.3h0.7v0.7h-0.7zM287.0 50.0h0.7v0.7h-0.7zM280.9 68.2h0.7v0.7h-0.7zM325.6 78.0h0.7v0.7h-0.7zM290.9 80.7h0.7v0.7h-0.7zM305.4 47.3h0.7v0.7h-0.7zM324.0 76.4h0.7v0.7h-0.7zM282.2 58.5h0.7v0.7h-0.7zM288.6 46.2h0.7v0.7h-0.7zM304.4 68.0h0.7v0.7h-0.7zM282.5 50.6h0.7v0.7h-0.7zM284.9 76.8h0.7v0.7h-0.7zM328.3 70.9h0.7v0.7h-0.7zM313.3 64.2h0.7v0.7h-0.7zM305.1 81.4h0.7v0.7h-0.7zM288.8 70.8h0.7v0.7h-0.7zM277.4 57.1h0.7v0.7h-0.7zM308.3 74.5h0.7v0.7h-0.7zM310.5 53.1h0.7v0.7h-0.7zM311.8 81.1h0.7v0.7h-0.7zM278.7 63.1h0.7v0.7h-0.7zM322.8 71.3h0.7v0.7h-0.7zM331.1 75.6h0.7v0.7h-0.7zM303.6 69.9h0.7v0.7h-0.7zM290.8 20.5h0.7v0.7h-0.7zM308.3 68.3h0.7v0.7h-0.7zM287.5 79.8h0.7v0.7h-0.7zM313.4 70.5h0.7v0.7h-0.7zM320.3 78.9h0.7v0.7h-0.7zM322.9 40.6h0.7v0.7h-0.7zM285.2 60.5h0.7v0.7h-0.7zM300.7 68.3h0.7v0.7h-0.7zM317.4 71.5h0.7v0.7h-0.7zM295.7 65.5h0.7v0.7h-0.7zM308.6 79.4h0.7v0.7h-0.7zM307.3 68.5h0.7v0.7h-0.7zM318.3 51.8h0.7v0.7h-0.7zM327.7 48.1h0.7v0.7h-0.7zM320.0 64.2h0.7v0.7h-0.7zM326.7 75.6h0.7v0.7h-0.7zM304.5 76.9h0.7v0.7h-0.7zM282.4 82.5h0.7v0.7h-0.7zM309.9 44.0h0.7v0.7h-0.7zM301.9 81.1h0.7v0.7h-0.7zM276.9 19.6h0.7v0.7h-0.7zM284.7 26.3h0.7v0.7h-0.7zM282.9 77.6h0.7v0.7h-0.7zM314.1 63.6h0.7v0.7h-0.7zM284.7 68.2h0.7v0.7h-0.7zM313.2 45.7h0.7v0.7h-0.7zM274.1 54.1h0.7v0.7h-0.7zM284.5 20.1h0.7v0.7h-0.7zM302.6 71.1h0.7v0.7h-0.7zM295.7 78.5h0.7v0.7h-0.7zM279.6 60.2h0.7v0.7h-0.7zM324.8 60.7h0.7v0.7h-0.7zM306.5 53.1h0.7v0.7h-0.7zM278.5 58.7h0.7v0.7h-0.7zM332.5 63.5h0.7v0.7h-0.7zM326.7 64.2h0.7v0.7h-0.7zM274.0 47.2h0.7v0.7h-0.7zM324.4 18.1h0.7v0.7h-0.7zM285.7 23.5h0.7v0.7h-0.7zM328.3 79.7h0.7v0.7h-0.7zM278.5 67.2h0.7v0.7h-0.7zM322.2 74.2h0.7v0.7h-0.7zM279.3 51.7h0.7v0.7h-0.7zM306.3 42.5h0.7v0.7h-0.7zM330.9 59.7h0.7v0.7h-0.7zM274.7 57.1h0.7v0.7h-0.7zM277.8 22.8h0.7v0.7h-0.7zM291.2 20.3h0.7v0.7h-0.7zM308.2 71.1h0.7v0.7h-0.7zM276.4 83.9h0.7v0.7h-0.7zM329.0 47.8h0.7v0.7h-0.7zM326.9 41.3h0.7v0.7h-0.7zM330.3 51.3h0.7v0.7h-0.7zM298.2 81.5h0.7v0.7h-0.7zM291.0 70.4h0.7v0.7h-0.7zM321.8 58.3h0.7v0.7h-0.7zM315.4 57.1h0.7v0.7h-0.7zM305.2 59.8h0.7v0.7h-0.7zM326.5 64.3h0.7v0.7h-0.7zM318.0 17.7h0.7v0.7h-0.7zM305.9 61.8h0.7v0.7h-0.7zM307.4 63.4h0.7v0.7h-0.7zM317.6 49.7h0.7v0.7h-0.7zM313.0 49.9h0.7v0.7h-0.7zM286.2 49.9h0.7v0.7h-0.7zM318.6 80.2h0.7v0.7h-0.7zM331.1 83.1h0.7v0.7h-0.7zM305.2 77.9h0.7v0.7h-0.7zM328.9 76.8h0.7v0.7h-0.7zM291.6 63.6h0.7v0.7h-0.7zM280.0 45.4h0.7v0.7h-0.7zM292.3 81.8h0.7v0.7h-0.7zM331.1 57.9h0.7v0.7h-0.7zM329.5 57.2h0.7v0.7h-0.7zM322.2 73.5h0.7v0.7h-0.7zM287.4 79.5h0.7v0.7h-0.7zM280.1 70.9h0.7v0.7h-0.7zM281.7 39.2h0.7v0.7h-0.7zM295.0 74.8h0.7v0.7h-0.7zM275.2 63.3h0.7v0.7h-0.7zM283.2 76.2h0.7v0.7h-0.7zM313.4 66.2h0.7v0.7h-0.7zM301.0 49.7h0.7v0.7h-0.7zM298.0 48.9h0.7v0.7h-0.7zM332.5 21.6h0.7v0.7h-0.7zM284.6 77.7h0.7v0.7h-0.7zM291.9 39.7h0.7v0.7h-0.7zM318.6 60.7h0.7v0.7h-0.7zM286.1 74.1h0.7v0.7h-0.7zM287.3 53.2h0.7v0.7h-0.7zM330.2 62.7h0.7v0.7h-0.7zM306.0 83.4h0.7v0.7h-0.7zM274.6 20.5h0.7v0.7h-0.7zM280.3 55.8h0.7v0.7h-0.7zM277.6 71.1h0.7v0.7h-0.7zM308.8 49.8h0.7v0.7h-0.7zM298.6 71.3h0.7v0.7h-0.7zM287.4 76.2h0.7v0.7h-0.7zM301.7 58.8h0.7v0.7h-0.7zM320.2 82.9h0.7v0.7h-0.7zM319.6 63.7h0.7v0.7h-0.7zM311.1 78.4h0.7v0.7h-0.7zM316.2 74.2h0.7v0.7h-0.7zM312.8 40.1h0.7v0.7h-0.7zM298.2 67.2h0.7v0.7h-0.7zM303.7 47.3h0.7v0.7h-0.7zM312.8 70.4h0.7v0.7h-0.7zM323.8 49.7h0.7v0.7h-0.7zM286.8 71.8h0.7v0.7h-0.7zM291.8 63.4h0.7v0.7h-0.7zM290.1 54.0h0.7v0.7h-0.7zM304.1 63.4h0.7v0.7h-0.7zM319.2 56.7h0.7v0.7h-0.7zM324.5 72.1h0.7v0.7h-0.7zM292.0 19.4h0.7v0.7h-0.7zM285.2 82.8h0.7v0.7h-0.7zM328.7 47.6h0.7v0.7h-0.7zM285.1 61.5h0.7v0.7h-0.7zM318.1 46.9h0.7v0.7h-0.7zM315.4 57.7h0.7v0.7h-0.7zM317.4 63.5h0.7v0.7h-0.7zM285.4 64.2h0.7v0.7h-0.7zM278.4 58.1h0.7v0.7h-0.7zM276.1 80.9h0.7v0.7h-0.7zM283.4 82.8h0.7v0.7h-0.7zM276.1 70.2h0.7v0.7h-0.7zM278.5 49.0h0.7v0.7h-0.7zM326.2 75.4h0.7v0.7h-0.7zM306.5 64.1h0.7v0.7h-0.7zM274.9 80.3h0.7v0.7h-0.7zM299.6 83.0h0.7v0.7h-0.7zM293.4 72.2h0.7v0.7h-0.7zM322.6 47.1h0.7v0.7h-0.7zM325.4 45.5h0.7v0.7h-0.7zM277.6 83.1h0.7v0.7h-0.7zM280.3 77.5h0.7v0.7h-0.7zM295.8 67.1h0.7v0.7h-0.7zM317.3 58.2h0.7v0.7h-0.7zM300.4 83.4h0.7v0.7h-0.7zM313.6 17.8h0.7v0.7h-0.7zM295.9 53.7h0.7v0.7h-0.7zM284.3 19.6h0.7v0.7h-0.7zM332.6 70.5h0.7v0.7h-0.7zM281.8 73.7h0.7v0.7h-0.7zM293.3 80.0h0.7v0.7h-0.7zM295.5 43.0h0.7v0.7h-0.7zM325.1 17.7h0.7v0.7h-0.7zM289.1 61.8h0.7v0.7h-0.7zM295.4 70.6h0.7v0.7h-0.7zM295.7 77.1h0.7v0.7h-0.7zM282.7 66.1h0.7v0.7h-0.7zM284.4 72.0h0.7v0.7h-0.7zM315.2 53.9h0.7v0.7h-0.7zM289.5 83.5h0.7v0.7h-0.7zM284.9 77.3h0.7v0.7h-0.7zM331.5 72.7h0.7v0.7h-0.7zM285.9 83.6h0.7v0.7h-0.7zM301.5 75.8h0.7v0.7h-0.7zM318.1 52.7h0.7v0.7h-0.7zM280.5 74.8h0.7v0.7h-0.7zM322.6 73.7h0.7v0.7h-0.7zM303.9 75.8h0.7v0.7h-0.7zM278.8 17.6h0.7v0.7h-0.7zM278.1 53.5h0.7v0.7h-0.7zM298.6 34.2h0.7v0.7h-0.7zM294.3 79.1h0.7v0.7h-0.7zM306.5 79.7h0.7v0.7h-0.7zM277.6 55.1h0.7v0.7h-0.7zM295.2 71.0h0.7v0.7h-0.7zM310.1 39.2h0.7v0.7h-0.7zM304.5 70.5h0.7v0.7h-0.7zM286.7 83.6h0.7v0.7h-0.7zM291.7 72.4h0.7v0.7h-0.7zM274.1 48.7h0.7v0.7h-0.7zM306.0 71.0h0.7v0.7h-0.7zM290.6 57.2h0.7v0.7h-0.7zM273.1 57.5h0.7v0.7h-0.7zM291.6 50.2h0.7v0.7h-0.7zM296.9 66.2h0.7v0.7h-0.7zM322.1 71.3h0.7v0.7h-0.7zM295.0 60.7h0.7v0.7h-0.7zM330.0 43.6h0.7v0.7h-0.7zM313.1 59.0h0.7v0.7h-0.7zM331.9 62.5h0.7v0.7h-0.7zM292.1 70.3h0.7v0.7h-0.7zM303.0 64.4h0.7v0.7h-0.7zM308.0 45.4h0.7v0.7h-0.7zM328.2 73.1h0.7v0.7h-0.7zM325.2 57.2h0.7v0.7h-0.7zM273.4 56.2h0.7v0.7h-0.7zM308.5 49.0h0.7v0.7h-0.7zM294.6 77.8h0.7v0.7h-0.7zM311.7 70.2h0.7v0.7h-0.7zM308.0 20.1h0.7v0.7h-0.7zM329.2 76.9h0.7v0.7h-0.7zM282.4 81.2h0.7v0.7h-0.7zM284.1 50.1h0.7v0.7h-0.7zM308.7 68.5h0.7v0.7h-0.7zM299.0 57.8h0.7v0.7h-0.7zM283.7 17.6h0.7v0.7h-0.7zM313.6 43.0h0.7v0.7h-0.7zM272.9 66.0h0.7v0.7h-0.7zM294.7 81.0h0.7v0.7h-0.7zM308.0 51.5h0.7v0.7h-0.7zM307.2 79.3h0.7v0.7h-0.7zM314.7 76.5h0.7v0.7h-0.7zM319.5 78.0h0.7v0.7h-0.7zM288.8 47.2h0.7v0.7h-0.7zM312.6 31.1h0.7v0.7h-0.7zM326.9 64.9h0.7v0.7h-0.7zM317.7 83.8h0.7v0.7h-0.7zM323.2 65.4h0.7v0.7h-0.7zM308.0 38.4h0.7v0.7h-0.7zM306.0 61.9h0.7v0.7h-0.7zM329.2 41.7h0.7v0.7h-0.7zM306.7 79.4h0.7v0.7h-0.7zM304.2 65.1h0.7v0.7h-0.7zM327.8 49.6h0.7v0.7h-0.7zM328.7 82.0h0.7v0.7h-0.7zM276.5 46.6h0.7v0.7h-0.7zM309.8 74.0h0.7v0.7h-0.7zM325.1 48.5h0.7v0.7h-0.7zM273.0 81.1h0.7v0.7h-0.7zM281.8 82.2h0.7v0.7h-0.7zM326.6 61.5h0.7v0.7h-0.7zM324.0 18.2h0.7v0.7h-0.7zM298.1 19.6h0.7v0.7h-0.7zM293.8 78.1h0.7v0.7h-0.7zM285.9 83.1h0.7v0.7h-0.7zM283.8 47.4h0.7v0.7h-0.7zM302.8 75.2h0.7v0.7h-0.7zM273.0 37.1h0.7v0.7h-0.7zM276.4 19.8h0.7v0.7h-0.7zM288.8 80.7h0.7v0.7h-0.7zM278.0 71.3h0.7v0.7h-0.7zM307.3 37.2h0.7v0.7h-0.7zM325.5 68.7h0.7v0.7h-0.7zM292.3 65.7h0.7v0.7h-0.7zM295.5 38.3h0.7v0.7h-0.7zM283.4 80.7h0.7v0.7h-0.7zM304.7 72.6h0.7v0.7h-0.7zM317.4 74.4h0.7v0.7h-0.7zM324.6 75.8h0.7v0.7h-0.7zM311.2 75.0h0.7v0.7h-0.7zM273.9 76.3h0.7v0.7h-0.7zM330.9 56.0h0.7v0.7h-0.7zM289.8 69.6h0.7v0.7h-0.7zM328.7 63.7h0.7v0.7h-0.7zM322.0 19.0h0.7v0.7h-0.7zM289.1 68.6h0.7v0.7h-0.7zM293.5 73.1h0.7v0.7h-0.7zM329.3 82.6h0.7v0.7h-0.7zM313.4 78.0h0.7v0.7h-0.7zM310.1 76.8h0.7v0.7h-0.7zM288.7 63.6h0.7v0.7h-0.7zM303.4 75.0h0.7v0.7h-0.7zM325.2 80.4h0.7v0.7h-0.7zM305.4 61.1h0.7v0.7h-0.7zM302.6 60.7h0.7v0.7h-0.7zM328.7 69.8h0.7v0.7h-0.7zM282.4 53.1h0.7v0.7h-0.7zM303.6 71.1h0.7v0.7h-0.7zM281.8 62.1h0.7v0.7h-0.7zM295.9 78.5h0.7v0.7h-0.7zM277.5 83.6h0.7v0.7h-0.7zM315.0 62.3h0.7v0.7h-0.7zM274.5 72.7h0.7v0.7h-0.7zM291.4 62.3h0.7v0.7h-0.7zM298.2 20.2h0.7v0.7h-0.7zM277.2 50.6h0.7v0.7h-0.7zM306.4 78.5h0.7v0.7h-0.7zM310.4 24.4h0.7v0.7h-0.7zM280.8 66.3h0.7v0.7h-0.7zM275.8 57.4h0.7v0.7h-0.7zM313.9 68.1h0.7v0.7h-0.7zM326.7 66.9h0.7v0.7h-0.7zM322.7 45.5h0.7v0.7h-0.7zM286.1 61.5h0.7v0.7h-0.7zM322.4 75.9h0.7v0.7h-0.7zM286.8 53.2h0.7v0.7h-0.7zM326.6 64.9h0.7v0.7h-0.7zM290.2 46.9h0.7v0.7h-0.7zM310.4 64.4h0.7v0.7h-0.7zM315.9 64.7h0.7v0.7h-0.7zM296.2 63.9h0.7v0.7h-0.7zM294.1 76.9h0.7v0.7h-0.7zM285.2 80.1h0.7v0.7h-0.7zM322.7 81.9h0.7v0.7h-0.7zM307.4 76.9h0.7v0.7h-0.7zM293.7 51.1h0.7v0.7h-0.7zM303.9 72.1h0.7v0.7h-0.7zM295.4 48.2h0.7v0.7h-0.7zM275.9 80.8h0.7v0.7h-0.7zM272.9 18.2h0.7v0.7h-0.7zM326.8 73.5h0.7v0.7h-0.7zM320.1 49.7h0.7v0.7h-0.7zM291.8 75.6h0.7v0.7h-0.7zM309.1 48.6h0.7v0.7h-0.7zM324.0 45.4h0.7v0.7h-0.7zM299.3 58.6h0.7v0.7h-0.7zM292.3 61.3h0.7v0.7h-0.7zM306.6 53.3h0.7v0.7h-0.7zM284.5 66.6h0.7v0.7h-0.7zM299.8 83.9h0.7v0.7h-0.7zM281.5 64.1h0.7v0.7h-0.7zM322.5 41.3h0.7v0.7h-0.7zM328.3 63.7h0.7v0.7h-0.7zM285.4 50.1h0.7v0.7h-0.7zM288.6 78.2h0.7v0.7h-0.7zM317.1 65.1h0.7v0.7h-0.7zM322.8 76.6h0.7v0.7h-0.7zM284.4 44.2h0.7v0.7h-0.7zM273.5 58.6h0.7v0.7h-0.7zM319.3 20.0h0.7v0.7h-0.7zM305.2 64.7h0.7v0.7h-0.7zM275.9 65.0h0.7v0.7h-0.7zM293.9 78.2h0.7v0.7h-0.7zM306.5 54.4h0.7v0.7h-0.7zM279.3 56.4h0.7v0.7h-0.7zM285.9 53.1h0.7v0.7h-0.7zM319.1 56.4h0.7v0.7h-0.7zM324.7 56.8h0.7v0.7h-0.7zM277.6 70.3h0.7v0.7h-0.7zM331.0 52.6h0.7v0.7h-0.7zM295.0 83.9h0.7v0.7h-0.7zM312.4 77.2h0.7v0.7h-0.7zM302.5 69.2h0.7v0.7h-0.7zM293.0 53.3h0.7v0.7h-0.7zM303.5 78.5h0.7v0.7h-0.7zM291.8 79.6h0.7v0.7h-0.7zM305.5 60.1h0.7v0.7h-0.7zM329.0 68.9h0.7v0.7h-0.7zM295.9 58.5h0.7v0.7h-0.7zM327.4 53.3h0.7v0.7h-0.7zM293.2 74.2h0.7v0.7h-0.7zM322.7 49.9h0.7v0.7h-0.7zM288.5 24.5h0.7v0.7h-0.7zM305.9 65.3h0.7v0.7h-0.7zM279.0 51.0h0.7v0.7h-0.7zM296.7 71.8h0.7v0.7h-0.7zM306.1 45.1h0.7v0.7h-0.7zM303.8 74.9h0.7v0.7h-0.7zM300.4 69.2h0.7v0.7h-0.7zM310.8 56.7h0.7v0.7h-0.7zM318.7 60.0h0.7v0.7h-0.7zM317.3 60.6h0.7v0.7h-0.7zM275.1 76.2h0.7v0.7h-0.7zM318.1 73.6h0.7v0.7h-0.7zM273.1 81.5h0.7v0.7h-0.7zM290.0 50.5h0.7v0.7h-0.7zM309.0 43.4h0.7v0.7h-0.7zM287.6 53.8h0.7v0.7h-0.7zM320.4 62.9h0.7v0.7h-0.7zM331.5 64.4h0.7v0.7h-0.7zM327.0 61.0h0.7v0.7h-0.7zM290.0 39.0h0.7v0.7h-0.7zM300.4 24.9h0.7v0.7h-0.7zM313.4 79.4h0.7v0.7h-0.7zM295.0 74.4h0.7v0.7h-0.7zM309.1 61.8h0.7v0.7h-0.7zM300.5 47.6h0.7v0.7h-0.7zM290.3 65.2h0.7v0.7h-0.7zM282.8 66.6h0.7v0.7h-0.7zM309.1 51.4h0.7v0.7h-0.7zM304.1 18.3h0.7v0.7h-0.7zM328.8 76.2h0.7v0.7h-0.7zM323.4 56.9h0.7v0.7h-0.7zM273.4 52.6h0.7v0.7h-0.7zM291.8 19.4h0.7v0.7h-0.7zM318.7 53.0h0.7v0.7h-0.7zM314.3 80.3h0.7v0.7h-0.7zM313.2 46.4h0.7v0.7h-0.7zM322.7 45.6h0.7v0.7h-0.7zM298.3 41.1h0.7v0.7h-0.7zM277.2 69.1h0.7v0.7h-0.7zM306.9 65.6h0.7v0.7h-0.7zM309.9 25.2h0.7v0.7h-0.7zM301.1 18.3h0.7v0.7h-0.7zM325.0 19.7h0.7v0.7h-0.7zM304.1 20.3h0.7v0.7h-0.7zM292.7 19.2h0.7v0.7h-0.7zM279.6 20.2h0.7v0.7h-0.7zM311.6 29.1h0.7v0.7h-0.7zM274.2 65.2h0.7v0.7h-0.7zM317.7 69.1h0.7v0.7h-0.7zM314.7 46.0h0.7v0.7h-0.7zM328.9 60.1h0.7v0.7h-0.7zM326.8 41.0h0.7v0.7h-0.7zM314.0 53.0h0.7v0.7h-0.7zM311.2 55.6h0.7v0.7h-0.7zM275.4 58.9h0.7v0.7h-0.7zM278.5 40.1h0.7v0.7h-0.7zM282.4 37.1h0.7v0.7h-0.7zM324.9 75.6h0.7v0.7h-0.7zM315.3 54.4h0.7v0.7h-0.7zM293.0 49.7h0.7v0.7h-0.7zM294.2 46.9h0.7v0.7h-0.7zM327.3 51.8h0.7v0.7h-0.7zM314.1 71.9h0.7v0.7h-0.7zM330.3 52.2h0.7v0.7h-0.7zM332.1 42.7h0.7v0.7h-0.7zM284.1 77.4h0.7v0.7h-0.7zM297.5 71.9h0.7v0.7h-0.7zM331.3 55.9h0.7v0.7h-0.7zM283.0 76.6h0.7v0.7h-0.7zM287.9 57.7h0.7v0.7h-0.7zM311.3 52.9h0.7v0.7h-0.7zM315.0 78.8h0.7v0.7h-0.7zM312.3 50.2h0.7v0.7h-0.7zM316.7 46.5h0.7v0.7h-0.7zM274.2 63.5h0.7v0.7h-0.7zM295.0 57.7h0.7v0.7h-0.7zM307.1 39.7h0.7v0.7h-0.7zM286.7 55.5h0.7v0.7h-0.7zM297.0 79.2h0.7v0.7h-0.7zM331.8 79.1h0.7v0.7h-0.7zM311.4 67.8h0.7v0.7h-0.7zM315.0 45.5h0.7v0.7h-0.7zM312.8 61.0h0.7v0.7h-0.7zM292.6 64.7h0.7v0.7h-0.7zM313.7 56.3h0.7v0.7h-0.7zM277.5 56.2h0.7v0.7h-0.7zM311.8 79.9h0.7v0.7h-0.7zM295.3 26.9h0.7v0.7h-0.7zM312.0 63.8h0.7v0.7h-0.7zM316.9 81.7h0.7v0.7h-0.7zM317.5 62.5h0.7v0.7h-0.7zM295.2 68.2h0.7v0.7h-0.7zM325.9 65.4h0.7v0.7h-0.7zM286.0 67.0h0.7v0.7h-0.7zM279.1 61.2h0.7v0.7h-0.7zM314.5 78.7h0.7v0.7h-0.7zM278.6 57.3h0.7v0.7h-0.7zM274.0 73.6h0.7v0.7h-0.7zM307.1 18.5h0.7v0.7h-0.7zM320.6 68.2h0.7v0.7h-0.7z" fill="#2a3c9c" clip-path="url(#cfs)"/>
<path d="M328.0 68.4h0.7v0.7h-0.7zM273.9 69.9h0.7v0.7h-0.7zM304.4 69.1h0.7v0.7h-0.7zM281.8 73.7h0.7v0.7h-0.7zM319.9 75.2h0.7v0.7h-0.7zM311.9 56.2h0.7v0.7h-0.7zM307.8 61.8h0.7v0.7h-0.7zM283.7 30.4h0.7v0.7h-0.7zM278.5 53.8h0.7v0.7h-0.7zM311.5 42.1h0.7v0.7h-0.7zM332.1 50.3h0.7v0.7h-0.7zM319.9 72.5h0.7v0.7h-0.7zM329.3 42.4h0.7v0.7h-0.7zM288.6 54.2h0.7v0.7h-0.7zM295.1 66.5h0.7v0.7h-0.7zM292.3 70.5h0.7v0.7h-0.7zM301.8 68.1h0.7v0.7h-0.7zM326.4 58.7h0.7v0.7h-0.7zM279.9 62.0h0.7v0.7h-0.7zM319.7 44.8h0.7v0.7h-0.7zM294.6 39.5h0.7v0.7h-0.7zM322.6 65.9h0.7v0.7h-0.7zM284.8 70.5h0.7v0.7h-0.7zM289.3 65.1h0.7v0.7h-0.7zM311.6 79.1h0.7v0.7h-0.7zM330.8 80.3h0.7v0.7h-0.7zM318.3 76.8h0.7v0.7h-0.7zM295.3 69.1h0.7v0.7h-0.7zM287.3 55.4h0.7v0.7h-0.7zM312.2 79.0h0.7v0.7h-0.7zM302.6 55.2h0.7v0.7h-0.7zM302.6 75.5h0.7v0.7h-0.7zM302.4 63.2h0.7v0.7h-0.7zM306.2 61.6h0.7v0.7h-0.7zM279.0 68.6h0.7v0.7h-0.7zM331.4 46.0h0.7v0.7h-0.7zM307.4 50.8h0.7v0.7h-0.7zM282.6 64.0h0.7v0.7h-0.7zM288.0 41.3h0.7v0.7h-0.7zM280.2 68.3h0.7v0.7h-0.7zM297.8 82.4h0.7v0.7h-0.7zM282.4 50.4h0.7v0.7h-0.7zM319.2 73.2h0.7v0.7h-0.7zM286.6 35.8h0.7v0.7h-0.7zM297.4 19.3h0.7v0.7h-0.7zM324.4 69.3h0.7v0.7h-0.7zM280.2 52.1h0.7v0.7h-0.7zM327.9 59.9h0.7v0.7h-0.7zM278.7 74.9h0.7v0.7h-0.7zM317.0 20.4h0.7v0.7h-0.7zM275.5 50.8h0.7v0.7h-0.7zM312.8 56.4h0.7v0.7h-0.7zM285.2 78.8h0.7v0.7h-0.7zM301.7 49.8h0.7v0.7h-0.7zM292.7 63.0h0.7v0.7h-0.7zM276.5 67.7h0.7v0.7h-0.7zM301.0 80.0h0.7v0.7h-0.7zM275.8 81.3h0.7v0.7h-0.7zM329.9 49.2h0.7v0.7h-0.7zM326.4 56.0h0.7v0.7h-0.7zM275.6 48.1h0.7v0.7h-0.7zM286.0 83.3h0.7v0.7h-0.7zM286.6 66.1h0.7v0.7h-0.7zM304.9 79.7h0.7v0.7h-0.7zM325.9 62.8h0.7v0.7h-0.7zM327.3 57.0h0.7v0.7h-0.7zM288.3 50.4h0.7v0.7h-0.7zM279.7 46.7h0.7v0.7h-0.7zM295.1 56.3h0.7v0.7h-0.7zM326.9 57.3h0.7v0.7h-0.7zM310.7 54.3h0.7v0.7h-0.7zM319.9 65.1h0.7v0.7h-0.7zM298.6 48.3h0.7v0.7h-0.7zM319.8 65.8h0.7v0.7h-0.7zM277.1 59.1h0.7v0.7h-0.7zM330.7 62.1h0.7v0.7h-0.7zM293.2 75.4h0.7v0.7h-0.7zM328.5 52.6h0.7v0.7h-0.7zM311.7 64.7h0.7v0.7h-0.7zM330.4 68.1h0.7v0.7h-0.7zM279.8 53.9h0.7v0.7h-0.7zM298.6 51.3h0.7v0.7h-0.7zM287.7 75.1h0.7v0.7h-0.7zM329.3 58.9h0.7v0.7h-0.7zM321.6 51.3h0.7v0.7h-0.7zM298.3 64.4h0.7v0.7h-0.7zM308.6 64.3h0.7v0.7h-0.7zM323.6 73.0h0.7v0.7h-0.7zM296.1 48.6h0.7v0.7h-0.7zM286.4 31.4h0.7v0.7h-0.7zM325.5 53.0h0.7v0.7h-0.7zM284.7 52.3h0.7v0.7h-0.7zM327.1 53.8h0.7v0.7h-0.7zM318.1 75.8h0.7v0.7h-0.7zM299.1 64.8h0.7v0.7h-0.7zM301.0 67.0h0.7v0.7h-0.7zM318.0 73.2h0.7v0.7h-0.7zM325.4 51.1h0.7v0.7h-0.7zM275.6 75.7h0.7v0.7h-0.7zM312.5 49.1h0.7v0.7h-0.7zM321.2 72.8h0.7v0.7h-0.7zM295.9 57.8h0.7v0.7h-0.7zM275.1 82.4h0.7v0.7h-0.7zM288.2 82.4h0.7v0.7h-0.7zM286.8 53.5h0.7v0.7h-0.7zM288.0 51.2h0.7v0.7h-0.7zM325.0 24.9h0.7v0.7h-0.7zM300.4 53.5h0.7v0.7h-0.7zM291.4 61.9h0.7v0.7h-0.7zM327.5 63.7h0.7v0.7h-0.7zM276.9 61.2h0.7v0.7h-0.7zM325.5 66.7h0.7v0.7h-0.7zM281.6 51.6h0.7v0.7h-0.7zM310.0 70.4h0.7v0.7h-0.7zM304.6 76.1h0.7v0.7h-0.7zM282.1 73.4h0.7v0.7h-0.7zM324.3 70.5h0.7v0.7h-0.7zM275.5 51.0h0.7v0.7h-0.7zM282.8 67.9h0.7v0.7h-0.7zM275.8 38.1h0.7v0.7h-0.7zM332.4 78.1h0.7v0.7h-0.7zM314.6 59.7h0.7v0.7h-0.7zM282.5 83.6h0.7v0.7h-0.7zM312.4 33.9h0.7v0.7h-0.7zM276.7 60.1h0.7v0.7h-0.7zM287.5 18.9h0.7v0.7h-0.7zM332.6 63.3h0.7v0.7h-0.7zM323.3 48.6h0.7v0.7h-0.7zM286.7 17.8h0.7v0.7h-0.7zM309.0 55.5h0.7v0.7h-0.7zM283.2 18.3h0.7v0.7h-0.7zM287.7 59.0h0.7v0.7h-0.7zM305.3 75.5h0.7v0.7h-0.7zM327.6 20.3h0.7v0.7h-0.7zM332.1 79.7h0.7v0.7h-0.7zM294.7 57.5h0.7v0.7h-0.7zM296.0 26.1h0.7v0.7h-0.7zM318.4 53.7h0.7v0.7h-0.7zM286.5 47.1h0.7v0.7h-0.7zM302.8 65.6h0.7v0.7h-0.7zM305.4 61.2h0.7v0.7h-0.7zM302.3 67.6h0.7v0.7h-0.7zM275.2 73.2h0.7v0.7h-0.7zM326.5 23.8h0.7v0.7h-0.7zM318.0 79.0h0.7v0.7h-0.7zM308.5 72.0h0.7v0.7h-0.7zM293.4 66.9h0.7v0.7h-0.7zM301.0 67.8h0.7v0.7h-0.7zM316.6 63.8h0.7v0.7h-0.7zM275.3 46.8h0.7v0.7h-0.7zM307.7 24.6h0.7v0.7h-0.7zM292.9 82.9h0.7v0.7h-0.7zM295.8 17.9h0.7v0.7h-0.7zM272.9 77.5h0.7v0.7h-0.7zM279.8 51.4h0.7v0.7h-0.7zM299.6 39.2h0.7v0.7h-0.7zM324.6 69.7h0.7v0.7h-0.7zM312.8 49.6h0.7v0.7h-0.7zM333.0 18.1h0.7v0.7h-0.7zM273.3 64.5h0.7v0.7h-0.7zM282.0 72.7h0.7v0.7h-0.7zM288.5 24.4h0.7v0.7h-0.7zM287.6 56.3h0.7v0.7h-0.7zM300.1 63.7h0.7v0.7h-0.7zM327.1 82.3h0.7v0.7h-0.7zM307.1 65.9h0.7v0.7h-0.7zM323.0 64.9h0.7v0.7h-0.7zM278.6 82.9h0.7v0.7h-0.7zM290.9 80.2h0.7v0.7h-0.7zM323.1 64.3h0.7v0.7h-0.7zM331.8 70.3h0.7v0.7h-0.7zM293.3 44.6h0.7v0.7h-0.7zM312.7 39.0h0.7v0.7h-0.7zM300.9 75.4h0.7v0.7h-0.7zM326.8 63.9h0.7v0.7h-0.7zM277.2 68.4h0.7v0.7h-0.7zM331.8 66.1h0.7v0.7h-0.7zM275.8 17.9h0.7v0.7h-0.7zM292.3 77.8h0.7v0.7h-0.7zM331.7 79.7h0.7v0.7h-0.7zM312.5 81.1h0.7v0.7h-0.7zM300.0 64.7h0.7v0.7h-0.7zM280.2 18.7h0.7v0.7h-0.7zM318.4 60.9h0.7v0.7h-0.7zM327.2 51.4h0.7v0.7h-0.7zM301.2 80.3h0.7v0.7h-0.7zM294.1 49.6h0.7v0.7h-0.7zM310.8 59.5h0.7v0.7h-0.7zM316.0 20.0h0.7v0.7h-0.7zM316.3 59.8h0.7v0.7h-0.7zM281.4 46.7h0.7v0.7h-0.7zM276.2 77.2h0.7v0.7h-0.7zM295.9 55.3h0.7v0.7h-0.7zM303.9 65.7h0.7v0.7h-0.7zM290.4 53.3h0.7v0.7h-0.7zM315.3 46.4h0.7v0.7h-0.7zM278.7 18.0h0.7v0.7h-0.7zM296.6 83.1h0.7v0.7h-0.7zM284.1 26.1h0.7v0.7h-0.7zM287.2 55.7h0.7v0.7h-0.7zM283.4 62.2h0.7v0.7h-0.7zM329.5 56.4h0.7v0.7h-0.7zM310.2 19.9h0.7v0.7h-0.7zM313.1 67.0h0.7v0.7h-0.7zM289.4 39.2h0.7v0.7h-0.7zM323.4 83.4h0.7v0.7h-0.7zM302.9 47.0h0.7v0.7h-0.7zM328.9 60.9h0.7v0.7h-0.7zM289.0 56.2h0.7v0.7h-0.7zM274.0 62.3h0.7v0.7h-0.7zM303.2 75.6h0.7v0.7h-0.7zM325.2 53.0h0.7v0.7h-0.7zM276.8 58.6h0.7v0.7h-0.7zM319.2 47.5h0.7v0.7h-0.7zM282.1 18.0h0.7v0.7h-0.7zM311.4 56.2h0.7v0.7h-0.7zM318.7 73.3h0.7v0.7h-0.7zM272.9 36.2h0.7v0.7h-0.7zM320.7 60.9h0.7v0.7h-0.7zM322.2 67.2h0.7v0.7h-0.7zM273.2 72.6h0.7v0.7h-0.7zM306.8 56.2h0.7v0.7h-0.7zM299.0 21.3h0.7v0.7h-0.7zM315.4 36.7h0.7v0.7h-0.7zM306.2 71.6h0.7v0.7h-0.7zM304.7 58.5h0.7v0.7h-0.7zM304.0 32.5h0.7v0.7h-0.7zM285.1 80.8h0.7v0.7h-0.7zM308.2 79.8h0.7v0.7h-0.7zM314.4 53.1h0.7v0.7h-0.7zM277.6 62.5h0.7v0.7h-0.7zM331.3 70.4h0.7v0.7h-0.7zM281.6 45.6h0.7v0.7h-0.7zM318.0 80.9h0.7v0.7h-0.7zM308.8 59.8h0.7v0.7h-0.7zM319.2 54.2h0.7v0.7h-0.7zM274.6 65.2h0.7v0.7h-0.7zM300.5 69.9h0.7v0.7h-0.7zM292.0 48.2h0.7v0.7h-0.7zM297.9 65.9h0.7v0.7h-0.7zM307.9 36.3h0.7v0.7h-0.7zM296.0 41.6h0.7v0.7h-0.7zM301.8 54.0h0.7v0.7h-0.7zM290.8 77.5h0.7v0.7h-0.7zM315.3 80.0h0.7v0.7h-0.7zM331.8 74.0h0.7v0.7h-0.7zM283.4 72.5h0.7v0.7h-0.7zM297.3 44.4h0.7v0.7h-0.7zM293.7 65.9h0.7v0.7h-0.7zM319.0 36.8h0.7v0.7h-0.7zM304.7 65.1h0.7v0.7h-0.7zM305.3 78.6h0.7v0.7h-0.7zM314.2 43.9h0.7v0.7h-0.7zM278.6 59.7h0.7v0.7h-0.7zM316.6 51.2h0.7v0.7h-0.7zM276.9 69.1h0.7v0.7h-0.7zM290.9 80.7h0.7v0.7h-0.7zM311.6 69.7h0.7v0.7h-0.7zM310.8 54.8h0.7v0.7h-0.7zM273.6 75.3h0.7v0.7h-0.7zM294.9 55.3h0.7v0.7h-0.7zM285.9 63.9h0.7v0.7h-0.7zM293.8 68.0h0.7v0.7h-0.7zM324.9 76.7h0.7v0.7h-0.7zM301.7 73.0h0.7v0.7h-0.7zM305.0 59.7h0.7v0.7h-0.7zM311.9 75.8h0.7v0.7h-0.7zM323.7 52.1h0.7v0.7h-0.7zM287.3 76.3h0.7v0.7h-0.7zM303.9 68.1h0.7v0.7h-0.7zM289.2 76.0h0.7v0.7h-0.7zM294.5 49.6h0.7v0.7h-0.7zM305.4 75.9h0.7v0.7h-0.7zM287.3 64.1h0.7v0.7h-0.7zM319.8 18.2h0.7v0.7h-0.7zM326.4 73.4h0.7v0.7h-0.7zM303.5 58.9h0.7v0.7h-0.7zM296.6 59.1h0.7v0.7h-0.7zM305.9 74.2h0.7v0.7h-0.7zM283.6 60.2h0.7v0.7h-0.7zM299.4 51.2h0.7v0.7h-0.7zM280.0 64.0h0.7v0.7h-0.7zM311.7 19.3h0.7v0.7h-0.7zM280.4 54.2h0.7v0.7h-0.7zM286.0 52.9h0.7v0.7h-0.7zM284.5 22.2h0.7v0.7h-0.7zM280.4 55.1h0.7v0.7h-0.7zM325.9 63.8h0.7v0.7h-0.7zM312.1 61.6h0.7v0.7h-0.7zM289.2 71.6h0.7v0.7h-0.7zM284.9 82.6h0.7v0.7h-0.7zM307.8 72.5h0.7v0.7h-0.7zM329.7 71.7h0.7v0.7h-0.7zM306.1 79.6h0.7v0.7h-0.7zM313.1 47.7h0.7v0.7h-0.7zM282.6 61.0h0.7v0.7h-0.7zM329.7 78.8h0.7v0.7h-0.7zM323.6 83.5h0.7v0.7h-0.7zM293.4 48.6h0.7v0.7h-0.7zM304.4 71.0h0.7v0.7h-0.7zM299.4 78.1h0.7v0.7h-0.7zM275.4 76.9h0.7v0.7h-0.7zM321.2 20.4h0.7v0.7h-0.7zM325.2 58.0h0.7v0.7h-0.7zM295.0 55.7h0.7v0.7h-0.7zM295.9 50.2h0.7v0.7h-0.7zM278.9 51.8h0.7v0.7h-0.7zM330.5 70.5h0.7v0.7h-0.7zM294.6 73.1h0.7v0.7h-0.7zM313.2 74.6h0.7v0.7h-0.7zM288.0 79.6h0.7v0.7h-0.7zM276.7 77.0h0.7v0.7h-0.7zM274.2 70.5h0.7v0.7h-0.7zM280.0 59.8h0.7v0.7h-0.7zM282.0 57.9h0.7v0.7h-0.7zM276.1 74.6h0.7v0.7h-0.7zM306.1 47.9h0.7v0.7h-0.7zM275.3 55.0h0.7v0.7h-0.7zM301.5 51.3h0.7v0.7h-0.7zM312.6 76.5h0.7v0.7h-0.7zM311.7 43.8h0.7v0.7h-0.7zM291.4 72.7h0.7v0.7h-0.7zM273.8 55.6h0.7v0.7h-0.7zM297.6 18.3h0.7v0.7h-0.7zM298.8 70.9h0.7v0.7h-0.7zM321.9 29.1h0.7v0.7h-0.7zM310.7 46.7h0.7v0.7h-0.7zM311.6 20.1h0.7v0.7h-0.7zM323.3 17.6h0.7v0.7h-0.7zM332.6 79.6h0.7v0.7h-0.7zM303.5 79.6h0.7v0.7h-0.7zM323.0 54.7h0.7v0.7h-0.7zM311.3 76.4h0.7v0.7h-0.7zM292.1 61.5h0.7v0.7h-0.7zM311.1 69.7h0.7v0.7h-0.7zM275.3 70.7h0.7v0.7h-0.7zM303.5 23.2h0.7v0.7h-0.7zM305.4 19.8h0.7v0.7h-0.7zM278.3 50.8h0.7v0.7h-0.7zM291.2 55.2h0.7v0.7h-0.7zM288.3 73.0h0.7v0.7h-0.7zM289.5 56.3h0.7v0.7h-0.7zM299.6 69.7h0.7v0.7h-0.7zM277.0 59.5h0.7v0.7h-0.7zM305.8 61.7h0.7v0.7h-0.7zM302.3 78.6h0.7v0.7h-0.7zM286.3 59.6h0.7v0.7h-0.7zM277.2 48.2h0.7v0.7h-0.7zM324.9 70.2h0.7v0.7h-0.7zM312.8 72.9h0.7v0.7h-0.7zM311.5 48.0h0.7v0.7h-0.7zM294.3 79.3h0.7v0.7h-0.7zM332.1 17.9h0.7v0.7h-0.7zM300.4 19.6h0.7v0.7h-0.7zM313.0 75.1h0.7v0.7h-0.7zM301.9 61.0h0.7v0.7h-0.7zM310.1 19.0h0.7v0.7h-0.7zM289.6 74.1h0.7v0.7h-0.7zM304.6 77.1h0.7v0.7h-0.7zM322.5 55.6h0.7v0.7h-0.7zM276.5 80.1h0.7v0.7h-0.7zM323.0 77.9h0.7v0.7h-0.7zM303.1 18.9h0.7v0.7h-0.7zM332.3 68.7h0.7v0.7h-0.7zM327.3 80.9h0.7v0.7h-0.7zM294.0 62.4h0.7v0.7h-0.7zM314.3 18.4h0.7v0.7h-0.7zM301.4 47.1h0.7v0.7h-0.7zM331.8 81.7h0.7v0.7h-0.7zM306.8 59.3h0.7v0.7h-0.7zM330.3 67.1h0.7v0.7h-0.7zM287.6 83.7h0.7v0.7h-0.7zM313.1 56.3h0.7v0.7h-0.7zM290.1 34.5h0.7v0.7h-0.7zM280.0 18.4h0.7v0.7h-0.7zM313.3 61.4h0.7v0.7h-0.7zM319.8 82.7h0.7v0.7h-0.7zM291.8 50.3h0.7v0.7h-0.7zM307.8 63.9h0.7v0.7h-0.7zM329.2 20.5h0.7v0.7h-0.7zM289.2 74.3h0.7v0.7h-0.7zM318.5 64.9h0.7v0.7h-0.7zM286.1 76.1h0.7v0.7h-0.7zM289.1 63.1h0.7v0.7h-0.7zM331.0 64.9h0.7v0.7h-0.7zM275.4 51.7h0.7v0.7h-0.7zM280.4 68.5h0.7v0.7h-0.7zM329.4 53.1h0.7v0.7h-0.7zM273.4 82.7h0.7v0.7h-0.7zM276.0 80.5h0.7v0.7h-0.7zM321.1 65.8h0.7v0.7h-0.7zM306.4 65.3h0.7v0.7h-0.7zM279.6 17.9h0.7v0.7h-0.7zM326.5 70.8h0.7v0.7h-0.7zM328.7 52.7h0.7v0.7h-0.7zM317.5 81.2h0.7v0.7h-0.7zM292.3 76.5h0.7v0.7h-0.7zM313.1 65.2h0.7v0.7h-0.7zM332.7 52.9h0.7v0.7h-0.7zM272.9 80.6h0.7v0.7h-0.7zM328.3 76.8h0.7v0.7h-0.7zM295.7 72.6h0.7v0.7h-0.7zM290.8 55.2h0.7v0.7h-0.7zM275.1 68.9h0.7v0.7h-0.7zM274.7 74.6h0.7v0.7h-0.7zM307.4 72.5h0.7v0.7h-0.7zM317.1 69.1h0.7v0.7h-0.7zM301.5 37.7h0.7v0.7h-0.7zM285.2 27.2h0.7v0.7h-0.7zM310.3 74.5h0.7v0.7h-0.7zM289.6 37.7h0.7v0.7h-0.7zM287.0 60.3h0.7v0.7h-0.7zM318.5 57.1h0.7v0.7h-0.7zM302.7 18.4h0.7v0.7h-0.7zM302.4 48.5h0.7v0.7h-0.7zM315.3 77.8h0.7v0.7h-0.7zM275.6 20.4h0.7v0.7h-0.7zM298.4 81.7h0.7v0.7h-0.7zM300.7 70.7h0.7v0.7h-0.7zM292.2 56.4h0.7v0.7h-0.7zM294.8 57.6h0.7v0.7h-0.7zM288.8 71.5h0.7v0.7h-0.7zM321.6 69.5h0.7v0.7h-0.7zM303.7 64.7h0.7v0.7h-0.7zM302.2 74.4h0.7v0.7h-0.7zM305.8 31.4h0.7v0.7h-0.7zM320.0 72.5h0.7v0.7h-0.7zM280.5 19.4h0.7v0.7h-0.7zM314.2 81.1h0.7v0.7h-0.7zM278.3 61.5h0.7v0.7h-0.7zM332.0 64.2h0.7v0.7h-0.7zM279.6 24.2h0.7v0.7h-0.7zM331.7 77.1h0.7v0.7h-0.7zM327.8 49.4h0.7v0.7h-0.7zM284.2 81.2h0.7v0.7h-0.7zM298.2 50.9h0.7v0.7h-0.7zM305.9 57.1h0.7v0.7h-0.7zM293.5 71.0h0.7v0.7h-0.7zM295.4 45.2h0.7v0.7h-0.7zM275.2 73.6h0.7v0.7h-0.7zM293.9 49.1h0.7v0.7h-0.7zM326.5 60.6h0.7v0.7h-0.7zM278.3 60.0h0.7v0.7h-0.7zM291.3 41.2h0.7v0.7h-0.7zM291.0 64.1h0.7v0.7h-0.7zM316.4 60.8h0.7v0.7h-0.7zM298.5 34.8h0.7v0.7h-0.7zM275.6 43.1h0.7v0.7h-0.7zM303.9 65.5h0.7v0.7h-0.7zM273.6 60.8h0.7v0.7h-0.7zM275.5 43.8h0.7v0.7h-0.7zM282.3 82.4h0.7v0.7h-0.7zM296.5 48.3h0.7v0.7h-0.7zM328.4 63.0h0.7v0.7h-0.7zM291.7 21.6h0.7v0.7h-0.7zM324.4 42.6h0.7v0.7h-0.7zM299.2 22.7h0.7v0.7h-0.7zM302.1 76.5h0.7v0.7h-0.7zM318.0 82.7h0.7v0.7h-0.7zM324.6 74.9h0.7v0.7h-0.7zM317.4 59.6h0.7v0.7h-0.7zM291.2 52.0h0.7v0.7h-0.7zM299.4 54.4h0.7v0.7h-0.7zM290.5 79.1h0.7v0.7h-0.7zM287.1 81.7h0.7v0.7h-0.7zM304.9 35.7h0.7v0.7h-0.7zM297.2 54.4h0.7v0.7h-0.7zM296.8 67.6h0.7v0.7h-0.7zM321.1 18.2h0.7v0.7h-0.7zM308.6 66.3h0.7v0.7h-0.7zM312.9 66.7h0.7v0.7h-0.7zM299.2 19.4h0.7v0.7h-0.7zM298.4 54.1h0.7v0.7h-0.7zM313.3 61.2h0.7v0.7h-0.7zM283.5 68.8h0.7v0.7h-0.7zM286.0 19.9h0.7v0.7h-0.7zM290.8 80.4h0.7v0.7h-0.7zM311.9 41.7h0.7v0.7h-0.7zM306.7 55.2h0.7v0.7h-0.7zM309.2 62.5h0.7v0.7h-0.7zM274.9 51.4h0.7v0.7h-0.7zM292.2 57.2h0.7v0.7h-0.7zM316.0 53.6h0.7v0.7h-0.7zM275.9 80.2h0.7v0.7h-0.7zM273.1 68.7h0.7v0.7h-0.7zM317.8 58.2h0.7v0.7h-0.7zM283.2 59.0h0.7v0.7h-0.7zM313.3 41.2h0.7v0.7h-0.7zM332.7 69.2h0.7v0.7h-0.7zM301.2 51.8h0.7v0.7h-0.7zM308.6 47.5h0.7v0.7h-0.7zM290.0 82.8h0.7v0.7h-0.7zM294.4 67.7h0.7v0.7h-0.7zM315.4 55.6h0.7v0.7h-0.7zM296.9 59.0h0.7v0.7h-0.7zM277.0 48.9h0.7v0.7h-0.7zM274.3 21.2h0.7v0.7h-0.7zM322.8 73.4h0.7v0.7h-0.7zM303.3 64.3h0.7v0.7h-0.7zM317.3 83.6h0.7v0.7h-0.7zM310.6 56.7h0.7v0.7h-0.7zM275.8 56.1h0.7v0.7h-0.7zM329.3 32.7h0.7v0.7h-0.7zM286.4 36.5h0.7v0.7h-0.7zM298.5 70.9h0.7v0.7h-0.7zM279.4 54.7h0.7v0.7h-0.7zM294.6 57.1h0.7v0.7h-0.7zM298.7 60.5h0.7v0.7h-0.7zM303.4 79.9h0.7v0.7h-0.7zM300.1 56.7h0.7v0.7h-0.7zM293.5 80.4h0.7v0.7h-0.7zM286.8 21.7h0.7v0.7h-0.7zM301.2 18.6h0.7v0.7h-0.7zM320.2 54.4h0.7v0.7h-0.7zM287.4 25.9h0.7v0.7h-0.7zM299.4 72.7h0.7v0.7h-0.7zM306.7 80.2h0.7v0.7h-0.7zM287.6 80.6h0.7v0.7h-0.7zM282.3 72.5h0.7v0.7h-0.7zM311.5 68.9h0.7v0.7h-0.7zM286.7 74.8h0.7v0.7h-0.7zM280.1 59.5h0.7v0.7h-0.7zM286.0 77.0h0.7v0.7h-0.7zM305.9 20.4h0.7v0.7h-0.7zM322.5 46.9h0.7v0.7h-0.7zM305.6 82.0h0.7v0.7h-0.7zM303.5 60.4h0.7v0.7h-0.7zM274.1 75.5h0.7v0.7h-0.7zM273.1 19.1h0.7v0.7h-0.7zM321.9 52.4h0.7v0.7h-0.7zM284.5 67.3h0.7v0.7h-0.7zM317.2 52.3h0.7v0.7h-0.7zM300.9 19.9h0.7v0.7h-0.7zM324.3 67.2h0.7v0.7h-0.7zM330.4 70.7h0.7v0.7h-0.7zM278.2 61.8h0.7v0.7h-0.7zM310.6 53.6h0.7v0.7h-0.7zM287.7 66.4h0.7v0.7h-0.7zM321.3 68.0h0.7v0.7h-0.7zM328.5 18.4h0.7v0.7h-0.7zM299.2 19.0h0.7v0.7h-0.7zM291.9 81.9h0.7v0.7h-0.7zM293.7 64.5h0.7v0.7h-0.7zM300.3 69.6h0.7v0.7h-0.7zM315.5 60.9h0.7v0.7h-0.7zM312.0 76.7h0.7v0.7h-0.7zM320.0 62.3h0.7v0.7h-0.7zM302.9 53.1h0.7v0.7h-0.7zM286.8 78.5h0.7v0.7h-0.7zM331.7 59.3h0.7v0.7h-0.7zM296.7 76.1h0.7v0.7h-0.7zM282.9 70.8h0.7v0.7h-0.7zM322.5 18.1h0.7v0.7h-0.7zM327.5 47.4h0.7v0.7h-0.7zM295.2 64.8h0.7v0.7h-0.7zM308.6 66.5h0.7v0.7h-0.7zM332.7 77.6h0.7v0.7h-0.7zM291.9 57.1h0.7v0.7h-0.7zM326.5 65.1h0.7v0.7h-0.7zM291.2 44.8h0.7v0.7h-0.7zM327.4 71.0h0.7v0.7h-0.7zM325.4 74.9h0.7v0.7h-0.7zM288.7 76.7h0.7v0.7h-0.7zM280.0 77.2h0.7v0.7h-0.7zM322.7 61.8h0.7v0.7h-0.7zM329.1 79.6h0.7v0.7h-0.7zM304.0 46.7h0.7v0.7h-0.7zM291.1 46.0h0.7v0.7h-0.7zM298.3 68.4h0.7v0.7h-0.7zM292.5 53.5h0.7v0.7h-0.7zM288.0 60.2h0.7v0.7h-0.7zM325.1 25.1h0.7v0.7h-0.7zM299.7 24.7h0.7v0.7h-0.7zM327.9 69.9h0.7v0.7h-0.7zM311.4 79.5h0.7v0.7h-0.7zM302.5 41.8h0.7v0.7h-0.7zM326.4 70.3h0.7v0.7h-0.7zM307.8 71.0h0.7v0.7h-0.7zM284.2 56.0h0.7v0.7h-0.7zM295.8 42.7h0.7v0.7h-0.7zM319.2 68.1h0.7v0.7h-0.7zM316.7 76.2h0.7v0.7h-0.7zM276.6 73.9h0.7v0.7h-0.7zM282.4 65.3h0.7v0.7h-0.7zM294.8 82.0h0.7v0.7h-0.7zM328.2 83.5h0.7v0.7h-0.7zM310.8 72.3h0.7v0.7h-0.7zM300.6 71.2h0.7v0.7h-0.7zM325.2 81.4h0.7v0.7h-0.7zM287.6 50.0h0.7v0.7h-0.7zM282.8 68.9h0.7v0.7h-0.7zM305.1 61.0h0.7v0.7h-0.7zM327.5 59.5h0.7v0.7h-0.7zM279.1 79.6h0.7v0.7h-0.7zM307.5 49.6h0.7v0.7h-0.7zM321.5 76.2h0.7v0.7h-0.7zM292.9 38.4h0.7v0.7h-0.7zM322.3 71.9h0.7v0.7h-0.7zM326.0 76.1h0.7v0.7h-0.7zM307.1 75.6h0.7v0.7h-0.7zM319.6 78.1h0.7v0.7h-0.7zM300.5 72.9h0.7v0.7h-0.7zM284.8 81.4h0.7v0.7h-0.7zM282.4 67.5h0.7v0.7h-0.7zM293.5 18.0h0.7v0.7h-0.7zM328.3 81.2h0.7v0.7h-0.7zM314.4 20.0h0.7v0.7h-0.7zM316.9 61.3h0.7v0.7h-0.7zM281.6 74.4h0.7v0.7h-0.7zM315.4 80.1h0.7v0.7h-0.7zM298.0 44.5h0.7v0.7h-0.7zM314.7 56.0h0.7v0.7h-0.7zM323.4 80.2h0.7v0.7h-0.7zM297.5 68.2h0.7v0.7h-0.7zM283.2 19.2h0.7v0.7h-0.7zM293.1 67.8h0.7v0.7h-0.7zM276.3 68.0h0.7v0.7h-0.7zM312.6 59.7h0.7v0.7h-0.7zM330.7 77.0h0.7v0.7h-0.7zM304.3 68.2h0.7v0.7h-0.7zM310.3 57.5h0.7v0.7h-0.7zM276.7 31.9h0.7v0.7h-0.7zM297.2 40.0h0.7v0.7h-0.7zM314.3 33.4h0.7v0.7h-0.7zM302.9 36.8h0.7v0.7h-0.7zM284.2 66.9h0.7v0.7h-0.7zM311.7 58.5h0.7v0.7h-0.7zM296.3 77.9h0.7v0.7h-0.7zM319.9 83.6h0.7v0.7h-0.7zM272.9 64.3h0.7v0.7h-0.7z" fill="#5069bd" clip-path="url(#cfs)"/>
<path d="M331.9 75.5h0.7v0.7h-0.7zM305.3 62.6h0.7v0.7h-0.7zM320.8 74.7h0.7v0.7h-0.7zM300.2 45.6h0.7v0.7h-0.7zM289.6 44.8h0.7v0.7h-0.7zM330.5 71.9h0.7v0.7h-0.7zM332.9 64.2h0.7v0.7h-0.7zM283.1 64.7h0.7v0.7h-0.7zM301.5 64.3h0.7v0.7h-0.7zM318.5 65.0h0.7v0.7h-0.7zM326.1 30.6h0.7v0.7h-0.7zM320.0 66.8h0.7v0.7h-0.7zM323.6 56.3h0.7v0.7h-0.7zM304.6 26.9h0.7v0.7h-0.7zM314.6 66.0h0.7v0.7h-0.7zM318.4 66.0h0.7v0.7h-0.7zM331.5 74.2h0.7v0.7h-0.7zM330.5 73.0h0.7v0.7h-0.7zM300.2 36.6h0.7v0.7h-0.7zM291.9 80.4h0.7v0.7h-0.7zM298.3 17.8h0.7v0.7h-0.7zM327.5 77.9h0.7v0.7h-0.7zM290.7 82.7h0.7v0.7h-0.7zM318.1 79.5h0.7v0.7h-0.7zM309.5 64.7h0.7v0.7h-0.7zM318.0 62.7h0.7v0.7h-0.7zM280.3 63.0h0.7v0.7h-0.7zM295.0 82.9h0.7v0.7h-0.7zM329.1 48.4h0.7v0.7h-0.7zM298.5 77.0h0.7v0.7h-0.7zM288.2 68.9h0.7v0.7h-0.7zM329.7 79.3h0.7v0.7h-0.7zM295.4 69.5h0.7v0.7h-0.7zM294.5 44.7h0.7v0.7h-0.7zM331.2 81.0h0.7v0.7h-0.7zM302.0 19.7h0.7v0.7h-0.7zM290.1 53.4h0.7v0.7h-0.7zM277.0 69.1h0.7v0.7h-0.7zM320.8 76.6h0.7v0.7h-0.7zM284.1 54.7h0.7v0.7h-0.7zM291.6 66.5h0.7v0.7h-0.7zM329.3 19.0h0.7v0.7h-0.7zM296.2 67.2h0.7v0.7h-0.7zM300.5 51.4h0.7v0.7h-0.7zM297.7 64.6h0.7v0.7h-0.7zM331.4 81.7h0.7v0.7h-0.7zM312.8 83.2h0.7v0.7h-0.7zM282.1 67.5h0.7v0.7h-0.7zM298.2 51.5h0.7v0.7h-0.7zM292.7 79.1h0.7v0.7h-0.7zM282.9 18.7h0.7v0.7h-0.7zM296.8 57.6h0.7v0.7h-0.7zM285.7 80.2h0.7v0.7h-0.7zM313.3 60.3h0.7v0.7h-0.7zM331.1 61.6h0.7v0.7h-0.7zM326.0 66.3h0.7v0.7h-0.7zM332.1 64.1h0.7v0.7h-0.7zM293.6 58.1h0.7v0.7h-0.7zM298.6 48.0h0.7v0.7h-0.7zM319.0 57.2h0.7v0.7h-0.7zM331.0 83.6h0.7v0.7h-0.7zM276.3 73.2h0.7v0.7h-0.7zM320.7 83.1h0.7v0.7h-0.7zM296.8 51.6h0.7v0.7h-0.7zM291.9 77.9h0.7v0.7h-0.7zM298.5 65.2h0.7v0.7h-0.7zM324.7 58.3h0.7v0.7h-0.7zM322.7 70.0h0.7v0.7h-0.7zM313.4 26.9h0.7v0.7h-0.7zM332.8 67.5h0.7v0.7h-0.7zM284.6 18.7h0.7v0.7h-0.7zM309.4 79.7h0.7v0.7h-0.7zM326.8 67.1h0.7v0.7h-0.7zM298.6 27.8h0.7v0.7h-0.7zM274.8 52.2h0.7v0.7h-0.7zM326.9 45.4h0.7v0.7h-0.7zM300.8 81.3h0.7v0.7h-0.7zM325.8 83.9h0.7v0.7h-0.7zM275.1 55.1h0.7v0.7h-0.7zM285.2 83.3h0.7v0.7h-0.7zM326.0 76.8h0.7v0.7h-0.7zM308.7 67.4h0.7v0.7h-0.7zM274.8 80.4h0.7v0.7h-0.7zM293.2 19.3h0.7v0.7h-0.7zM325.5 66.4h0.7v0.7h-0.7zM283.4 67.0h0.7v0.7h-0.7zM279.4 60.0h0.7v0.7h-0.7zM331.2 61.2h0.7v0.7h-0.7zM286.1 58.3h0.7v0.7h-0.7zM285.5 19.8h0.7v0.7h-0.7zM331.3 75.5h0.7v0.7h-0.7zM280.5 30.8h0.7v0.7h-0.7zM305.9 60.0h0.7v0.7h-0.7zM319.5 51.1h0.7v0.7h-0.7zM276.0 58.6h0.7v0.7h-0.7zM321.2 72.3h0.7v0.7h-0.7zM311.2 79.2h0.7v0.7h-0.7zM301.0 81.5h0.7v0.7h-0.7zM310.0 75.3h0.7v0.7h-0.7zM305.1 79.6h0.7v0.7h-0.7zM281.0 63.4h0.7v0.7h-0.7zM312.7 69.9h0.7v0.7h-0.7zM330.1 63.4h0.7v0.7h-0.7zM288.0 75.9h0.7v0.7h-0.7zM307.0 32.6h0.7v0.7h-0.7zM328.4 81.4h0.7v0.7h-0.7zM297.3 53.0h0.7v0.7h-0.7zM290.0 18.4h0.7v0.7h-0.7zM290.7 74.9h0.7v0.7h-0.7zM311.7 80.9h0.7v0.7h-0.7zM327.4 73.1h0.7v0.7h-0.7zM331.4 61.9h0.7v0.7h-0.7zM327.7 72.5h0.7v0.7h-0.7zM290.7 70.6h0.7v0.7h-0.7zM324.3 70.7h0.7v0.7h-0.7zM288.2 64.9h0.7v0.7h-0.7zM315.7 77.4h0.7v0.7h-0.7zM327.7 55.5h0.7v0.7h-0.7zM285.3 68.0h0.7v0.7h-0.7zM314.9 42.7h0.7v0.7h-0.7zM329.1 80.9h0.7v0.7h-0.7zM297.2 51.9h0.7v0.7h-0.7zM311.3 20.1h0.7v0.7h-0.7zM314.4 50.0h0.7v0.7h-0.7zM277.4 83.3h0.7v0.7h-0.7zM307.7 45.5h0.7v0.7h-0.7zM306.3 58.1h0.7v0.7h-0.7zM274.3 74.4h0.7v0.7h-0.7zM280.1 57.3h0.7v0.7h-0.7zM302.4 63.7h0.7v0.7h-0.7zM301.4 76.6h0.7v0.7h-0.7zM331.8 75.3h0.7v0.7h-0.7zM324.0 74.2h0.7v0.7h-0.7zM275.2 80.7h0.7v0.7h-0.7zM288.3 20.2h0.7v0.7h-0.7zM323.5 79.9h0.7v0.7h-0.7zM308.6 66.6h0.7v0.7h-0.7zM321.3 54.1h0.7v0.7h-0.7zM315.0 80.2h0.7v0.7h-0.7zM286.7 80.3h0.7v0.7h-0.7zM305.0 76.4h0.7v0.7h-0.7zM328.3 63.0h0.7v0.7h-0.7zM286.3 47.4h0.7v0.7h-0.7zM291.2 73.1h0.7v0.7h-0.7zM280.6 57.6h0.7v0.7h-0.7zM277.2 78.6h0.7v0.7h-0.7zM296.6 72.2h0.7v0.7h-0.7zM280.1 63.2h0.7v0.7h-0.7zM300.8 67.1h0.7v0.7h-0.7zM278.6 31.7h0.7v0.7h-0.7zM304.0 59.9h0.7v0.7h-0.7zM295.2 56.5h0.7v0.7h-0.7zM325.3 57.1h0.7v0.7h-0.7zM281.4 54.2h0.7v0.7h-0.7zM314.2 47.3h0.7v0.7h-0.7zM299.1 47.8h0.7v0.7h-0.7zM311.9 58.1h0.7v0.7h-0.7zM316.5 61.4h0.7v0.7h-0.7zM320.0 70.2h0.7v0.7h-0.7zM292.3 77.9h0.7v0.7h-0.7zM308.1 47.0h0.7v0.7h-0.7zM326.4 74.7h0.7v0.7h-0.7zM331.2 65.1h0.7v0.7h-0.7zM288.3 82.2h0.7v0.7h-0.7zM324.8 74.6h0.7v0.7h-0.7zM282.9 43.1h0.7v0.7h-0.7zM328.1 18.8h0.7v0.7h-0.7zM300.0 18.7h0.7v0.7h-0.7zM290.0 54.5h0.7v0.7h-0.7zM297.9 77.4h0.7v0.7h-0.7zM286.5 38.1h0.7v0.7h-0.7zM309.5 79.4h0.7v0.7h-0.7zM297.6 68.9h0.7v0.7h-0.7zM282.9 65.1h0.7v0.7h-0.7zM290.8 62.6h0.7v0.7h-0.7zM314.2 56.3h0.7v0.7h-0.7zM286.5 66.2h0.7v0.7h-0.7zM302.8 75.2h0.7v0.7h-0.7zM272.8 58.0h0.7v0.7h-0.7zM297.4 56.3h0.7v0.7h-0.7zM288.3 28.9h0.7v0.7h-0.7zM285.3 76.2h0.7v0.7h-0.7zM283.1 50.2h0.7v0.7h-0.7zM313.6 66.3h0.7v0.7h-0.7zM301.4 55.8h0.7v0.7h-0.7zM321.8 29.3h0.7v0.7h-0.7zM302.6 17.9h0.7v0.7h-0.7zM319.6 66.8h0.7v0.7h-0.7zM306.2 71.8h0.7v0.7h-0.7zM274.7 71.1h0.7v0.7h-0.7zM331.7 78.5h0.7v0.7h-0.7zM315.8 37.4h0.7v0.7h-0.7zM313.9 47.0h0.7v0.7h-0.7zM304.1 60.0h0.7v0.7h-0.7zM281.4 69.6h0.7v0.7h-0.7zM290.7 71.5h0.7v0.7h-0.7zM276.4 51.1h0.7v0.7h-0.7zM274.8 74.6h0.7v0.7h-0.7zM331.0 57.4h0.7v0.7h-0.7zM326.8 70.9h0.7v0.7h-0.7zM292.3 54.6h0.7v0.7h-0.7zM287.6 62.2h0.7v0.7h-0.7zM289.6 68.3h0.7v0.7h-0.7zM313.9 48.0h0.7v0.7h-0.7zM297.8 56.1h0.7v0.7h-0.7zM311.6 18.8h0.7v0.7h-0.7zM313.8 18.9h0.7v0.7h-0.7zM291.8 58.6h0.7v0.7h-0.7zM295.2 18.3h0.7v0.7h-0.7zM273.0 66.0h0.7v0.7h-0.7zM274.6 64.8h0.7v0.7h-0.7zM289.2 47.4h0.7v0.7h-0.7zM295.5 22.8h0.7v0.7h-0.7zM275.4 82.0h0.7v0.7h-0.7zM333.0 81.1h0.7v0.7h-0.7zM311.7 80.6h0.7v0.7h-0.7zM317.2 75.1h0.7v0.7h-0.7zM319.8 82.3h0.7v0.7h-0.7zM331.7 18.2h0.7v0.7h-0.7zM297.5 62.3h0.7v0.7h-0.7zM312.7 43.5h0.7v0.7h-0.7zM281.5 35.0h0.7v0.7h-0.7zM289.6 19.0h0.7v0.7h-0.7zM307.2 53.9h0.7v0.7h-0.7zM282.8 57.6h0.7v0.7h-0.7zM321.6 67.3h0.7v0.7h-0.7zM280.1 50.2h0.7v0.7h-0.7zM287.0 81.5h0.7v0.7h-0.7zM304.3 71.0h0.7v0.7h-0.7zM307.6 68.2h0.7v0.7h-0.7zM297.8 19.7h0.7v0.7h-0.7zM327.9 59.5h0.7v0.7h-0.7zM323.9 79.9h0.7v0.7h-0.7zM295.2 18.3h0.7v0.7h-0.7zM279.8 70.5h0.7v0.7h-0.7zM274.9 51.6h0.7v0.7h-0.7zM308.3 77.0h0.7v0.7h-0.7zM309.9 54.6h0.7v0.7h-0.7zM303.5 83.2h0.7v0.7h-0.7zM302.6 44.7h0.7v0.7h-0.7zM293.6 83.4h0.7v0.7h-0.7zM315.2 49.9h0.7v0.7h-0.7zM329.2 78.1h0.7v0.7h-0.7zM308.8 70.6h0.7v0.7h-0.7zM319.9 60.5h0.7v0.7h-0.7zM315.4 82.9h0.7v0.7h-0.7zM297.9 71.5h0.7v0.7h-0.7zM305.5 56.3h0.7v0.7h-0.7zM287.0 75.7h0.7v0.7h-0.7zM295.3 48.8h0.7v0.7h-0.7zM330.4 66.1h0.7v0.7h-0.7zM276.7 78.0h0.7v0.7h-0.7zM310.4 73.6h0.7v0.7h-0.7zM275.6 69.7h0.7v0.7h-0.7zM289.5 83.0h0.7v0.7h-0.7zM305.9 18.2h0.7v0.7h-0.7zM332.3 72.8h0.7v0.7h-0.7zM277.0 29.8h0.7v0.7h-0.7zM319.8 70.0h0.7v0.7h-0.7zM279.3 60.5h0.7v0.7h-0.7zM288.0 55.5h0.7v0.7h-0.7zM275.3 51.0h0.7v0.7h-0.7zM288.3 61.2h0.7v0.7h-0.7zM277.7 75.5h0.7v0.7h-0.7zM280.2 57.8h0.7v0.7h-0.7zM305.1 63.2h0.7v0.7h-0.7zM318.7 64.1h0.7v0.7h-0.7zM279.1 56.2h0.7v0.7h-0.7zM301.0 19.2h0.7v0.7h-0.7zM278.5 64.4h0.7v0.7h-0.7zM304.2 58.8h0.7v0.7h-0.7zM273.9 77.4h0.7v0.7h-0.7zM326.2 55.3h0.7v0.7h-0.7zM310.1 83.9h0.7v0.7h-0.7zM328.6 74.4h0.7v0.7h-0.7zM327.5 75.6h0.7v0.7h-0.7zM302.6 46.9h0.7v0.7h-0.7zM312.1 82.4h0.7v0.7h-0.7zM286.9 50.3h0.7v0.7h-0.7zM274.5 66.5h0.7v0.7h-0.7zM302.6 58.6h0.7v0.7h-0.7zM300.8 67.8h0.7v0.7h-0.7zM312.8 68.4h0.7v0.7h-0.7zM312.6 64.7h0.7v0.7h-0.7zM316.6 72.7h0.7v0.7h-0.7zM302.3 57.7h0.7v0.7h-0.7zM282.9 60.8h0.7v0.7h-0.7zM323.6 18.4h0.7v0.7h-0.7zM303.5 56.0h0.7v0.7h-0.7zM313.5 29.8h0.7v0.7h-0.7zM327.9 29.7h0.7v0.7h-0.7zM284.5 76.0h0.7v0.7h-0.7zM325.8 78.5h0.7v0.7h-0.7zM290.6 66.1h0.7v0.7h-0.7zM306.3 56.4h0.7v0.7h-0.7zM296.2 52.6h0.7v0.7h-0.7zM328.8 77.2h0.7v0.7h-0.7zM332.4 74.4h0.7v0.7h-0.7zM285.8 40.4h0.7v0.7h-0.7zM286.3 48.5h0.7v0.7h-0.7zM325.4 66.0h0.7v0.7h-0.7zM292.2 43.0h0.7v0.7h-0.7zM276.4 76.5h0.7v0.7h-0.7zM327.4 74.6h0.7v0.7h-0.7zM291.2 62.9h0.7v0.7h-0.7zM294.7 59.3h0.7v0.7h-0.7zM309.3 58.2h0.7v0.7h-0.7zM282.9 83.6h0.7v0.7h-0.7zM310.6 18.9h0.7v0.7h-0.7zM273.9 35.3h0.7v0.7h-0.7zM290.8 83.0h0.7v0.7h-0.7zM279.5 67.5h0.7v0.7h-0.7zM325.6 78.0h0.7v0.7h-0.7zM288.8 63.1h0.7v0.7h-0.7zM285.4 46.5h0.7v0.7h-0.7zM287.7 81.6h0.7v0.7h-0.7zM280.2 56.3h0.7v0.7h-0.7zM286.6 60.5h0.7v0.7h-0.7zM283.1 83.0h0.7v0.7h-0.7zM322.1 36.0h0.7v0.7h-0.7zM281.7 72.8h0.7v0.7h-0.7zM323.4 19.6h0.7v0.7h-0.7zM274.6 19.0h0.7v0.7h-0.7zM298.2 53.3h0.7v0.7h-0.7zM297.5 69.7h0.7v0.7h-0.7zM328.2 61.3h0.7v0.7h-0.7zM288.9 79.7h0.7v0.7h-0.7zM284.7 39.5h0.7v0.7h-0.7zM275.0 51.3h0.7v0.7h-0.7zM313.2 80.8h0.7v0.7h-0.7zM331.7 49.0h0.7v0.7h-0.7zM331.4 78.6h0.7v0.7h-0.7zM306.0 19.6h0.7v0.7h-0.7zM309.3 72.9h0.7v0.7h-0.7zM292.8 81.5h0.7v0.7h-0.7zM298.9 58.5h0.7v0.7h-0.7zM319.8 18.9h0.7v0.7h-0.7zM296.4 52.2h0.7v0.7h-0.7zM323.0 77.9h0.7v0.7h-0.7zM311.4 71.2h0.7v0.7h-0.7zM300.6 66.3h0.7v0.7h-0.7zM329.4 44.0h0.7v0.7h-0.7zM288.5 53.9h0.7v0.7h-0.7zM288.3 81.7h0.7v0.7h-0.7zM312.1 18.8h0.7v0.7h-0.7zM274.3 72.6h0.7v0.7h-0.7zM316.4 65.9h0.7v0.7h-0.7zM290.8 27.4h0.7v0.7h-0.7zM274.4 62.0h0.7v0.7h-0.7zM274.1 20.5h0.7v0.7h-0.7zM300.9 68.3h0.7v0.7h-0.7zM295.8 47.8h0.7v0.7h-0.7zM307.1 65.2h0.7v0.7h-0.7zM290.4 81.1h0.7v0.7h-0.7zM292.7 48.7h0.7v0.7h-0.7zM290.7 76.3h0.7v0.7h-0.7zM317.2 75.5h0.7v0.7h-0.7zM319.8 19.1h0.7v0.7h-0.7zM297.0 18.2h0.7v0.7h-0.7zM317.6 79.3h0.7v0.7h-0.7zM277.2 58.5h0.7v0.7h-0.7zM281.2 35.6h0.7v0.7h-0.7zM330.8 47.9h0.7v0.7h-0.7zM302.3 64.0h0.7v0.7h-0.7zM322.4 58.4h0.7v0.7h-0.7zM320.5 64.8h0.7v0.7h-0.7zM306.4 83.1h0.7v0.7h-0.7zM332.2 70.9h0.7v0.7h-0.7zM323.2 38.5h0.7v0.7h-0.7zM287.0 57.9h0.7v0.7h-0.7zM330.7 62.4h0.7v0.7h-0.7zM327.0 69.6h0.7v0.7h-0.7zM281.6 20.3h0.7v0.7h-0.7z" fill="#aab6e4" clip-path="url(#cfs)"/>
<g clip-path="url(#cfs)">
<rect x="272" y="79.5" width="62" height="6" fill="#8ea2da" filter="url(#b1)"/>
<ellipse cx="283" cy="76" rx="11" ry="7.5" fill="#5ab8e8" filter="url(#b1)"/>
<ellipse cx="298" cy="73" rx="22.5" ry="8.2" fill="#5ab8e8" transform="rotate(-6 296 73.5)" filter="url(#b1)"/>
<ellipse cx="294" cy="73.8" rx="16.5" ry="5.2" fill="#66cc5c" transform="rotate(-8 294 74)" filter="url(#b1)"/>
<ellipse cx="289.8" cy="74" rx="9" ry="3.9" fill="#eee23a" transform="rotate(-12 290 74)" filter="url(#b05)"/>
<ellipse cx="291.4" cy="73.4" rx="5.4" ry="2.7" fill="#f08a28" transform="rotate(-10 291 73.4)" filter="url(#b05)"/>
<ellipse cx="291.4" cy="73.4" rx="3.8" ry="1.9" fill="#e0321e" transform="rotate(-10 291 73.4)"/>
<ellipse cx="283" cy="76" rx="2.2" ry="1.4" fill="#f0c030"/>
<ellipse cx="283" cy="76" rx="1" ry="0.8" fill="#e04020"/>
</g>
<line x1="264.4" y1="17.3" x2="333.5" y2="17.3" stroke="#000" stroke-width="1.2" stroke-linecap="butt"/>
<line x1="333.5" y1="17.3" x2="333.5" y2="84.7" stroke="#000" stroke-width="1.2" stroke-linecap="butt"/>
<line x1="264.4" y1="16.7" x2="264.4" y2="85.5" stroke="#000" stroke-width="1.6" stroke-linecap="butt"/>
<line x1="263.59999999999997" y1="84.7" x2="334.1" y2="84.7" stroke="#000" stroke-width="1.6" stroke-linecap="butt"/>
<line x1="262.6" y1="23" x2="264.3" y2="23" stroke="#000" stroke-width="0.9" stroke-linecap="butt"/>
<line x1="262.6" y1="43" x2="264.3" y2="43" stroke="#000" stroke-width="0.9" stroke-linecap="butt"/>
<line x1="262.6" y1="63.8" x2="264.3" y2="63.8" stroke="#000" stroke-width="0.9" stroke-linecap="butt"/>
<line x1="285.4" y1="84.6" x2="285.4" y2="86.4" stroke="#000" stroke-width="0.9" stroke-linecap="butt"/>
<line x1="307" y1="84.6" x2="307" y2="86.4" stroke="#000" stroke-width="0.9" stroke-linecap="butt"/>
<line x1="328.5" y1="84.6" x2="328.5" y2="86.4" stroke="#000" stroke-width="0.9" stroke-linecap="butt"/>
<polygon points="297.0,23.2 332.6,24.2 332.8,67.5 324.5,76.5 290.0,79.0 275.8,78.0 279.0,52.0 284.5,35.0" fill="none" stroke="#c058a8" stroke-width="1.6" stroke-linejoin="round"/>
<rect x="297" y="50.3" width="14" height="7.5" fill="#fff"/>
<text x="304" y="56.8" font-size="7" font-weight="bold" text-anchor="middle" fill="#000" textLength="12" lengthAdjust="spacingAndGlyphs">96.1</text>
<text x="290.8" y="94.2" font-size="6.8" font-weight="bold" text-anchor="middle" fill="#000" textLength="8.6" lengthAdjust="spacingAndGlyphs">FS</text>
<text transform="translate(261.9,59) rotate(-90)" font-size="6.5" font-weight="bold" text-anchor="middle" fill="#000" textLength="7.7" lengthAdjust="spacingAndGlyphs">SS</text>
<line x1="318.5" y1="48.3" x2="339" y2="48.3" stroke="#000" stroke-width="3.4" stroke-linecap="butt"/>
<path d="M337.5 44.6L346 48.3L337.5 52Z" fill="#000"/>
<g clip-path="url(#ccd19)">
<path d="M356 45 L362 42 L371 41 L377 49.5 L372 62 L367 67 L355 67 Z" fill="#c8d0ee" filter="url(#b2)"/>
<path d="M355 47 L362 43.5 L370 43 L374.5 50 L369 61.5 L365.5 65 L355 65.5 Z" fill="#3d5ec0" filter="url(#b1)"/>
<path d="M348 68.5 L380 68.5 C386 70 388.5 76 387 87 L348 87Z" fill="#4668cc" filter="url(#b1)"/>
<ellipse cx="368" cy="78.5" rx="15" ry="6" fill="#52b4e6" filter="url(#b1)"/>
<ellipse cx="376.6" cy="77.4" rx="6.6" ry="5.6" fill="#5cc85a" filter="url(#b05)"/>
<ellipse cx="376.6" cy="77.4" rx="4.1" ry="3.7" fill="#eee23a" filter="url(#b05)"/>
<ellipse cx="376.6" cy="77.4" rx="2.5" ry="2.3" fill="#f08a28"/>
<ellipse cx="376.6" cy="77.4" rx="1.5" ry="1.3" fill="#e0321e"/>
</g>
<path d="M377.7 45.5h0.8v0.8h-0.8zM378.7 51.4h0.8v0.8h-0.8zM376.9 45.5h0.8v0.8h-0.8zM373.6 55.3h0.8v0.8h-0.8zM374.5 69.5h0.8v0.8h-0.8zM376.2 61.7h0.8v0.8h-0.8zM384.1 73.3h0.8v0.8h-0.8zM372.2 72.6h0.8v0.8h-0.8zM373.7 63.7h0.8v0.8h-0.8zM373.7 51.1h0.8v0.8h-0.8zM377.8 72.4h0.8v0.8h-0.8zM376.5 45.5h0.8v0.8h-0.8zM372.6 46.0h0.8v0.8h-0.8zM379.6 45.7h0.8v0.8h-0.8zM375.6 48.9h0.8v0.8h-0.8zM379.6 43.9h0.8v0.8h-0.8zM380.8 55.1h0.8v0.8h-0.8zM376.5 52.9h0.8v0.8h-0.8zM383.4 51.3h0.8v0.8h-0.8zM377.7 71.0h0.8v0.8h-0.8zM375.4 57.0h0.8v0.8h-0.8zM379.6 68.6h0.8v0.8h-0.8zM372.6 47.4h0.8v0.8h-0.8zM374.0 51.0h0.8v0.8h-0.8zM376.2 60.5h0.8v0.8h-0.8zM381.5 49.6h0.8v0.8h-0.8z" fill="#4a64c0" clip-path="url(#ccd19)"/>
<path d="M377.8 54.3h0.8v0.8h-0.8zM379.2 50.4h0.8v0.8h-0.8zM374.0 72.6h0.8v0.8h-0.8zM380.0 53.7h0.8v0.8h-0.8zM380.8 53.2h0.8v0.8h-0.8zM380.4 50.9h0.8v0.8h-0.8zM379.9 73.2h0.8v0.8h-0.8zM379.3 43.0h0.8v0.8h-0.8zM377.4 43.0h0.8v0.8h-0.8zM381.8 74.5h0.8v0.8h-0.8zM381.5 57.4h0.8v0.8h-0.8zM381.7 68.9h0.8v0.8h-0.8zM382.2 53.7h0.8v0.8h-0.8zM372.6 42.7h0.8v0.8h-0.8zM372.2 54.9h0.8v0.8h-0.8zM377.7 57.3h0.8v0.8h-0.8zM374.4 55.4h0.8v0.8h-0.8zM380.7 70.1h0.8v0.8h-0.8zM373.5 66.9h0.8v0.8h-0.8zM376.0 45.8h0.8v0.8h-0.8zM373.7 55.1h0.8v0.8h-0.8zM381.1 60.5h0.8v0.8h-0.8zM380.8 61.9h0.8v0.8h-0.8zM376.5 68.3h0.8v0.8h-0.8zM379.0 63.3h0.8v0.8h-0.8z" fill="#9aaae0" clip-path="url(#ccd19)"/>
<path d="M364.2 62.9h0.8v0.8h-0.8zM361.4 62.1h0.8v0.8h-0.8zM370.1 47.6h0.8v0.8h-0.8zM368.6 56.8h0.8v0.8h-0.8zM364.4 43.5h0.8v0.8h-0.8zM375.4 64.2h0.8v0.8h-0.8zM369.3 54.3h0.8v0.8h-0.8zM365.5 56.4h0.8v0.8h-0.8zM355.1 55.6h0.8v0.8h-0.8zM369.9 61.5h0.8v0.8h-0.8zM367.3 56.7h0.8v0.8h-0.8zM356.7 54.0h0.8v0.8h-0.8zM375.2 57.2h0.8v0.8h-0.8zM370.1 54.9h0.8v0.8h-0.8zM372.5 60.2h0.8v0.8h-0.8zM363.8 62.8h0.8v0.8h-0.8zM365.9 60.8h0.8v0.8h-0.8zM367.6 65.1h0.8v0.8h-0.8zM363.7 59.5h0.8v0.8h-0.8zM354.4 47.6h0.8v0.8h-0.8zM366.1 58.4h0.8v0.8h-0.8zM373.3 43.1h0.8v0.8h-0.8zM356.2 56.8h0.8v0.8h-0.8zM365.9 59.9h0.8v0.8h-0.8zM359.4 65.3h0.8v0.8h-0.8zM368.1 61.8h0.8v0.8h-0.8zM371.5 49.7h0.8v0.8h-0.8zM371.2 62.0h0.8v0.8h-0.8zM362.9 44.3h0.8v0.8h-0.8zM369.3 45.6h0.8v0.8h-0.8zM363.6 52.0h0.8v0.8h-0.8zM364.4 46.3h0.8v0.8h-0.8zM362.7 54.6h0.8v0.8h-0.8zM357.3 59.7h0.8v0.8h-0.8zM364.4 57.2h0.8v0.8h-0.8zM362.9 53.1h0.8v0.8h-0.8zM358.0 64.6h0.8v0.8h-0.8zM354.5 63.5h0.8v0.8h-0.8zM371.3 55.5h0.8v0.8h-0.8zM354.9 61.9h0.8v0.8h-0.8zM359.4 61.5h0.8v0.8h-0.8zM357.9 51.7h0.8v0.8h-0.8zM364.2 45.1h0.8v0.8h-0.8zM368.7 56.7h0.8v0.8h-0.8zM373.8 49.7h0.8v0.8h-0.8zM354.5 65.9h0.8v0.8h-0.8zM373.9 51.8h0.8v0.8h-0.8zM356.6 53.7h0.8v0.8h-0.8zM374.0 46.5h0.8v0.8h-0.8zM356.5 61.0h0.8v0.8h-0.8zM373.2 53.0h0.8v0.8h-0.8zM366.9 60.3h0.8v0.8h-0.8zM362.3 64.5h0.8v0.8h-0.8zM357.3 62.6h0.8v0.8h-0.8zM355.3 55.0h0.8v0.8h-0.8zM360.5 50.4h0.8v0.8h-0.8zM357.4 52.1h0.8v0.8h-0.8zM363.8 50.3h0.8v0.8h-0.8zM360.8 59.0h0.8v0.8h-0.8zM370.5 64.8h0.8v0.8h-0.8zM354.7 48.2h0.8v0.8h-0.8zM373.0 55.8h0.8v0.8h-0.8zM361.6 60.9h0.8v0.8h-0.8zM370.8 61.6h0.8v0.8h-0.8zM356.6 44.1h0.8v0.8h-0.8zM359.1 49.4h0.8v0.8h-0.8zM367.2 43.2h0.8v0.8h-0.8zM357.6 52.6h0.8v0.8h-0.8zM363.4 65.5h0.8v0.8h-0.8zM354.4 63.1h0.8v0.8h-0.8zM373.9 50.9h0.8v0.8h-0.8zM373.4 43.7h0.8v0.8h-0.8zM373.1 48.9h0.8v0.8h-0.8zM357.9 45.5h0.8v0.8h-0.8zM372.3 66.3h0.8v0.8h-0.8zM363.8 55.7h0.8v0.8h-0.8zM368.8 44.0h0.8v0.8h-0.8zM356.6 59.0h0.8v0.8h-0.8zM366.2 61.8h0.8v0.8h-0.8zM367.6 58.2h0.8v0.8h-0.8zM369.4 49.9h0.8v0.8h-0.8zM356.8 60.6h0.8v0.8h-0.8zM368.6 62.6h0.8v0.8h-0.8zM355.6 45.0h0.8v0.8h-0.8zM374.4 45.2h0.8v0.8h-0.8zM364.6 44.2h0.8v0.8h-0.8zM365.1 64.8h0.8v0.8h-0.8zM360.1 48.3h0.8v0.8h-0.8zM364.3 53.7h0.8v0.8h-0.8zM355.2 49.3h0.8v0.8h-0.8zM370.7 57.1h0.8v0.8h-0.8zM357.8 50.0h0.8v0.8h-0.8zM361.9 55.9h0.8v0.8h-0.8zM362.0 62.6h0.8v0.8h-0.8zM354.1 44.3h0.8v0.8h-0.8zM362.2 50.2h0.8v0.8h-0.8zM360.8 53.4h0.8v0.8h-0.8zM354.4 62.3h0.8v0.8h-0.8zM357.0 56.8h0.8v0.8h-0.8zM361.8 48.3h0.8v0.8h-0.8zM359.5 44.1h0.8v0.8h-0.8zM367.7 66.3h0.8v0.8h-0.8z" fill="#2a3c9c" clip-path="url(#ccd19)"/>
<path d="M373.8 66.3h0.8v0.8h-0.8zM361.7 46.2h0.8v0.8h-0.8zM375.9 52.1h0.8v0.8h-0.8zM375.8 53.4h0.8v0.8h-0.8zM366.8 50.8h0.8v0.8h-0.8zM369.7 44.0h0.8v0.8h-0.8zM374.1 61.2h0.8v0.8h-0.8zM367.6 46.5h0.8v0.8h-0.8zM357.2 46.9h0.8v0.8h-0.8zM354.1 61.2h0.8v0.8h-0.8zM364.3 54.2h0.8v0.8h-0.8zM366.0 57.5h0.8v0.8h-0.8zM358.2 56.0h0.8v0.8h-0.8zM361.3 63.1h0.8v0.8h-0.8zM359.0 56.2h0.8v0.8h-0.8zM374.9 66.5h0.8v0.8h-0.8zM374.2 55.6h0.8v0.8h-0.8zM355.7 45.4h0.8v0.8h-0.8zM361.7 65.2h0.8v0.8h-0.8zM362.4 61.7h0.8v0.8h-0.8zM354.2 62.4h0.8v0.8h-0.8zM364.8 48.7h0.8v0.8h-0.8zM365.0 45.9h0.8v0.8h-0.8zM355.2 56.4h0.8v0.8h-0.8zM372.5 51.1h0.8v0.8h-0.8zM374.3 43.3h0.8v0.8h-0.8zM356.0 45.4h0.8v0.8h-0.8zM357.0 66.4h0.8v0.8h-0.8zM366.1 50.3h0.8v0.8h-0.8zM360.7 51.5h0.8v0.8h-0.8zM375.1 48.4h0.8v0.8h-0.8zM358.2 57.9h0.8v0.8h-0.8zM368.0 55.8h0.8v0.8h-0.8zM355.3 46.3h0.8v0.8h-0.8zM361.0 66.0h0.8v0.8h-0.8zM358.7 43.0h0.8v0.8h-0.8zM368.4 46.1h0.8v0.8h-0.8zM360.0 55.9h0.8v0.8h-0.8zM359.9 62.6h0.8v0.8h-0.8zM364.6 60.2h0.8v0.8h-0.8zM355.8 59.5h0.8v0.8h-0.8zM360.9 66.1h0.8v0.8h-0.8zM369.3 54.5h0.8v0.8h-0.8zM355.1 59.9h0.8v0.8h-0.8zM364.6 54.9h0.8v0.8h-0.8zM369.9 46.5h0.8v0.8h-0.8zM364.6 55.0h0.8v0.8h-0.8zM358.9 54.9h0.8v0.8h-0.8zM372.4 48.7h0.8v0.8h-0.8zM372.4 56.5h0.8v0.8h-0.8zM364.0 49.0h0.8v0.8h-0.8zM375.0 61.4h0.8v0.8h-0.8zM362.7 66.7h0.8v0.8h-0.8zM359.4 53.6h0.8v0.8h-0.8zM370.7 58.6h0.8v0.8h-0.8zM373.4 44.9h0.8v0.8h-0.8zM364.9 59.8h0.8v0.8h-0.8zM368.2 45.2h0.8v0.8h-0.8zM370.7 52.6h0.8v0.8h-0.8zM360.1 54.2h0.8v0.8h-0.8zM358.2 51.3h0.8v0.8h-0.8zM374.9 65.6h0.8v0.8h-0.8zM361.7 66.3h0.8v0.8h-0.8zM368.5 48.8h0.8v0.8h-0.8zM360.7 59.0h0.8v0.8h-0.8zM372.8 48.4h0.8v0.8h-0.8zM371.2 46.2h0.8v0.8h-0.8zM368.9 66.7h0.8v0.8h-0.8zM373.8 53.9h0.8v0.8h-0.8zM369.8 55.3h0.8v0.8h-0.8zM364.1 56.7h0.8v0.8h-0.8zM375.8 62.8h0.8v0.8h-0.8zM372.3 51.1h0.8v0.8h-0.8zM365.7 44.0h0.8v0.8h-0.8zM365.2 47.8h0.8v0.8h-0.8zM355.0 66.4h0.8v0.8h-0.8zM369.4 53.0h0.8v0.8h-0.8zM365.4 62.6h0.8v0.8h-0.8zM361.8 65.4h0.8v0.8h-0.8zM358.4 50.5h0.8v0.8h-0.8zM363.6 54.3h0.8v0.8h-0.8zM358.4 48.2h0.8v0.8h-0.8zM370.0 58.4h0.8v0.8h-0.8zM355.7 54.4h0.8v0.8h-0.8zM363.1 57.5h0.8v0.8h-0.8zM355.6 43.5h0.8v0.8h-0.8zM356.2 50.0h0.8v0.8h-0.8zM356.9 44.2h0.8v0.8h-0.8zM371.0 53.0h0.8v0.8h-0.8zM374.8 49.4h0.8v0.8h-0.8zM357.8 64.7h0.8v0.8h-0.8zM363.4 43.3h0.8v0.8h-0.8zM363.8 61.8h0.8v0.8h-0.8zM358.9 61.1h0.8v0.8h-0.8zM367.0 53.2h0.8v0.8h-0.8zM358.4 48.9h0.8v0.8h-0.8zM357.3 52.1h0.8v0.8h-0.8zM371.2 54.6h0.8v0.8h-0.8zM370.7 44.9h0.8v0.8h-0.8zM374.5 45.0h0.8v0.8h-0.8zM365.2 48.5h0.8v0.8h-0.8zM354.1 49.3h0.8v0.8h-0.8zM374.5 63.7h0.8v0.8h-0.8zM359.6 50.0h0.8v0.8h-0.8zM362.8 51.0h0.8v0.8h-0.8z" fill="#6a84d0" clip-path="url(#ccd19)"/>
<path d="M372.8 64.9h0.8v0.8h-0.8zM355.0 45.1h0.8v0.8h-0.8zM366.1 55.7h0.8v0.8h-0.8zM367.8 60.9h0.8v0.8h-0.8zM356.4 53.5h0.8v0.8h-0.8zM357.7 48.9h0.8v0.8h-0.8zM356.9 49.5h0.8v0.8h-0.8zM358.2 49.0h0.8v0.8h-0.8zM367.9 55.8h0.8v0.8h-0.8zM374.5 45.7h0.8v0.8h-0.8zM368.9 46.0h0.8v0.8h-0.8zM372.8 47.8h0.8v0.8h-0.8zM362.6 66.3h0.8v0.8h-0.8zM362.3 50.0h0.8v0.8h-0.8zM370.8 61.9h0.8v0.8h-0.8zM358.7 64.4h0.8v0.8h-0.8zM370.9 44.6h0.8v0.8h-0.8zM361.5 59.8h0.8v0.8h-0.8zM374.4 57.7h0.8v0.8h-0.8zM358.7 61.5h0.8v0.8h-0.8zM371.1 55.9h0.8v0.8h-0.8zM373.4 47.0h0.8v0.8h-0.8zM375.7 48.0h0.8v0.8h-0.8zM354.9 50.5h0.8v0.8h-0.8zM370.1 56.9h0.8v0.8h-0.8zM363.0 50.6h0.8v0.8h-0.8zM372.4 53.3h0.8v0.8h-0.8zM373.1 56.9h0.8v0.8h-0.8zM364.1 62.0h0.8v0.8h-0.8zM366.2 66.2h0.8v0.8h-0.8zM359.8 47.6h0.8v0.8h-0.8zM361.1 44.6h0.8v0.8h-0.8zM356.0 50.0h0.8v0.8h-0.8zM375.0 46.2h0.8v0.8h-0.8zM356.6 52.3h0.8v0.8h-0.8zM362.6 65.8h0.8v0.8h-0.8zM368.4 61.6h0.8v0.8h-0.8zM361.6 58.8h0.8v0.8h-0.8zM354.9 57.0h0.8v0.8h-0.8zM373.7 45.7h0.8v0.8h-0.8zM371.5 44.4h0.8v0.8h-0.8zM372.3 58.7h0.8v0.8h-0.8zM360.1 65.5h0.8v0.8h-0.8zM354.7 50.1h0.8v0.8h-0.8zM356.0 49.9h0.8v0.8h-0.8zM354.9 44.7h0.8v0.8h-0.8zM372.8 59.2h0.8v0.8h-0.8zM359.9 48.1h0.8v0.8h-0.8zM372.0 59.4h0.8v0.8h-0.8zM369.4 54.2h0.8v0.8h-0.8zM367.4 51.4h0.8v0.8h-0.8zM365.3 45.5h0.8v0.8h-0.8zM355.6 64.6h0.8v0.8h-0.8zM368.1 45.0h0.8v0.8h-0.8z" fill="#9aaee0" clip-path="url(#ccd19)"/>
<line x1="351.4" y1="17.5" x2="420.3" y2="17.5" stroke="#000" stroke-width="1.2" stroke-linecap="butt"/>
<line x1="420.3" y1="17.5" x2="420.3" y2="85.3" stroke="#000" stroke-width="1.2" stroke-linecap="butt"/>
<line x1="351.4" y1="16.9" x2="351.4" y2="86.1" stroke="#000" stroke-width="1.6" stroke-linecap="butt"/>
<line x1="350.59999999999997" y1="85.3" x2="420.90000000000003" y2="85.3" stroke="#000" stroke-width="1.6" stroke-linecap="butt"/>
<line x1="349.8" y1="34.4" x2="351.4" y2="34.4" stroke="#000" stroke-width="0.9" stroke-linecap="butt"/>
<line x1="349.8" y1="51.4" x2="351.4" y2="51.4" stroke="#000" stroke-width="0.9" stroke-linecap="butt"/>
<line x1="349.8" y1="68.3" x2="351.4" y2="68.3" stroke="#000" stroke-width="0.9" stroke-linecap="butt"/>
<line x1="369" y1="85.3" x2="369" y2="87" stroke="#000" stroke-width="0.9" stroke-linecap="butt"/>
<line x1="386" y1="85.3" x2="386" y2="87" stroke="#000" stroke-width="0.9" stroke-linecap="butt"/>
<line x1="403" y1="85.3" x2="403" y2="87" stroke="#000" stroke-width="0.9" stroke-linecap="butt"/>
<polygon points="352.8,46.5 362.4,41.7 371.6,40.8 376.8,49.4 374.5,55.0 369.6,62.9 366.8,66.3 353.3,66.7" fill="none" stroke="#c058a8" stroke-width="1.5" stroke-linejoin="round"/>
<text x="385.4" y="94.8" font-size="6.6" font-weight="bold" text-anchor="middle" fill="#000" textLength="27.7" lengthAdjust="spacingAndGlyphs">CD4/CD8</text>
<text transform="translate(348.5,59.1) rotate(-90)" font-size="6.4" font-weight="bold" text-anchor="middle" fill="#000" textLength="15.6" lengthAdjust="spacingAndGlyphs">CD19</text>
<line x1="371" y1="56.5" x2="421" y2="56.5" stroke="#000" stroke-width="3.3" stroke-linecap="butt"/>
<path d="M419.8 53L435 56.5L419.8 60Z" fill="#000"/>
<g clip-path="url(#ccd11)">
<path d="M443 44 C446 41.5 450 40.3 456 40 C461 40.3 465 42 467.5 45.5 L470 47 L478.5 46.8 C480 44.5 484 43.6 487 44.1 C490 45.5 490.5 50 490.5 55 C491 60 491.7 64 492.8 68 C493.8 72 494.3 78 494.3 87 L443 87 Z" fill="#9c9c9c" stroke="#000" stroke-width="1"/>
<path d="M444.5 45 C448 42.3 452 41.5 456 41.5 C460 41.8 463.5 43.5 465.5 46.5 L463 49 C460 46 452 45 446 47.5Z" fill="#dcdcdc" filter="url(#b05)"/>
<path d="M444 47 L449 47 L448.5 66 L444 66Z" fill="#c9c9c9" filter="url(#b05)"/>
<ellipse cx="470" cy="62" rx="7.5" ry="5" fill="#2e2e2e" filter="url(#b1)"/>
<ellipse cx="477" cy="57" rx="6" ry="4.5" fill="#6a6a6a" filter="url(#b1)"/>
<ellipse cx="484.6" cy="50.5" rx="5.2" ry="6.2" fill="url(#grb)" filter="url(#b05)"/>
<path d="M468.5 47.5 L472 47 L473 49 L475 47.5 L477 46.3 L478.7 47.5 L478.2 51 L476.2 52 L476.6 54.8 L473 55.2 L471 53 L469 51Z" fill="#000"/>
<ellipse cx="455" cy="54" rx="8.2" ry="11.4" fill="#505050" filter="url(#b05)"/>
<ellipse cx="454.8" cy="53.5" rx="6.8" ry="9.6" fill="#0c0c0c" filter="url(#b05)"/>
<ellipse cx="455.4" cy="62.3" rx="5" ry="3" fill="#777" filter="url(#b1)"/>
<ellipse cx="452.4" cy="51.6" rx="1.1" ry="1.9" fill="#8a8a8a"/>
<path d="M444 68.5 C452 66.5 461 68.5 468 73 L470.5 87 L444 87Z" fill="#c4c4c4"/>
<path d="M444 68.5 C452 66.5 461 68.5 468 73" fill="none" stroke="#555" stroke-width="0.8"/>
<path d="M447 81.5 L454 82 L456 84.8 L446 85.8Z" fill="#fff"/>
<path d="M458 83 L464 82.5 L466 85.8 L458 85.8Z" fill="#fff"/>
<polyline points="446.6,73.8 448.5,75.0 449.2,81.0 453.8,81.6 456.4,79.0 459.6,78.3 463.6,81.0 466.2,84.2" fill="none" stroke="#000" stroke-width="1.4" stroke-linejoin="round"/>
<path d="M455 78.5 C458 76.5 461.5 77.3 463.5 80 L460 81.2 L456 80.6Z" fill="#000"/>
<polyline points="444.0,70.5 447.0,71.2 449.0,72.5" fill="none" stroke="#000" stroke-width="1.1" stroke-linejoin="round"/>
<polyline points="450.0,85.2 455.0,86.0" fill="none" stroke="#000" stroke-width="1.0" stroke-linejoin="round"/>
<path d="M470.5 69 C471 66 474 65 478 64.8 L487 64.6 C491 64.8 493.3 67.5 493.8 71 L494.3 87 L470.3 87 Z" fill="#a8a8a8" stroke="#222" stroke-width="0.9"/>
<path d="M472.3 70 C472.8 67.6 475.5 66.6 479 66.5 L487 66.4 C490 66.6 491.8 68.6 492.2 71.8 L492.6 87 L472.2 87 Z" fill="#d8d8d8" stroke="#f2f2f2" stroke-width="0.7"/>
<path d="M474.4 71 C474.8 69 477 68.1 480 68.1 L486.8 68.1 C489.5 68.4 490.8 70 491 72.5 L491.3 85.4 L474.3 85.4 Z" fill="#8c92b8" stroke="#2f4296" stroke-width="1.4"/>
<rect x="476.4" y="69.9" width="13" height="14.4" rx="4" fill="#c4c8dc" stroke="#6070b0" stroke-width="0.8"/>
<rect x="479.3" y="71.3" width="8.6" height="11" rx="3.6" fill="#9096bc" stroke="#2f4296" stroke-width="1.2"/>
<ellipse cx="483.8" cy="75.4" rx="2.2" ry="2.6" fill="#141414" stroke="#b8a878" stroke-width="0.7"/>
</g>
<polygon points="445.2,46.0 448.3,38.5 461.6,33.7 470.6,43.8 466.9,58.6 463.7,66.0 451.5,67.0 446.2,64.9" fill="none" stroke="#3a4fa0" stroke-width="1.4" stroke-linejoin="round"/>
<circle cx="464.9" cy="67.2" r="0.9" fill="#fff"/>
<line x1="443.2" y1="18.2" x2="516.3" y2="18.2" stroke="#000" stroke-width="1.2" stroke-linecap="butt"/>
<line x1="516.3" y1="18.2" x2="516.3" y2="86.3" stroke="#000" stroke-width="1.2" stroke-linecap="butt"/>
<line x1="443.2" y1="17.599999999999998" x2="443.2" y2="87.1" stroke="#000" stroke-width="1.6" stroke-linecap="butt"/>
<line x1="442.4" y1="86.3" x2="516.9" y2="86.3" stroke="#000" stroke-width="1.6" stroke-linecap="butt"/>
<line x1="441.6" y1="33" x2="443.2" y2="33" stroke="#000" stroke-width="0.9" stroke-linecap="butt"/>
<line x1="441.6" y1="47" x2="443.2" y2="47" stroke="#000" stroke-width="0.9" stroke-linecap="butt"/>
<line x1="441.6" y1="61" x2="443.2" y2="61" stroke="#000" stroke-width="0.9" stroke-linecap="butt"/>
<line x1="441.6" y1="75" x2="443.2" y2="75" stroke="#000" stroke-width="0.9" stroke-linecap="butt"/>
<line x1="461" y1="86.3" x2="461" y2="88" stroke="#000" stroke-width="0.9" stroke-linecap="butt"/>
<line x1="479" y1="86.3" x2="479" y2="88" stroke="#000" stroke-width="0.9" stroke-linecap="butt"/>
<line x1="497" y1="86.3" x2="497" y2="88" stroke="#000" stroke-width="0.9" stroke-linecap="butt"/>
<text x="447.3" y="30.6" font-size="10.2" font-weight="bold" text-anchor="start" fill="#dc2a36" textLength="26.1" lengthAdjust="spacingAndGlyphs">ABCs</text>
<text x="471" y="35.4" font-size="6.6" font-weight="bold" text-anchor="start" fill="#000" textLength="12.2" lengthAdjust="spacingAndGlyphs">18.4</text>
<text x="497.9" y="71.2" font-size="6.6" font-weight="bold" text-anchor="start" fill="#000" textLength="13" lengthAdjust="spacingAndGlyphs">27.6</text>
<text x="473.4" y="95.7" font-size="6.5" font-weight="bold" text-anchor="middle" fill="#000" textLength="16" lengthAdjust="spacingAndGlyphs">CD21</text>
<text transform="translate(440.9,52.7) rotate(-90)" font-size="6.6" font-weight="bold" text-anchor="middle" fill="#000" textLength="19.5" lengthAdjust="spacingAndGlyphs">CD11c</text>
<line x1="484.6" y1="79.5" x2="499.4" y2="94.8" stroke="#000" stroke-width="1.5" stroke-linecap="butt"/>
<text x="489.2" y="103" font-size="10.2" font-weight="normal" text-anchor="start" fill="#111" textLength="25.4" lengthAdjust="spacingAndGlyphs" stroke="#111" stroke-width="0.35">Other</text>
<text x="489.2" y="116.2" font-size="10.2" font-weight="normal" text-anchor="start" fill="#111" textLength="30.6" lengthAdjust="spacingAndGlyphs" stroke="#111" stroke-width="0.35">B cells</text>
</svg></body></html>
